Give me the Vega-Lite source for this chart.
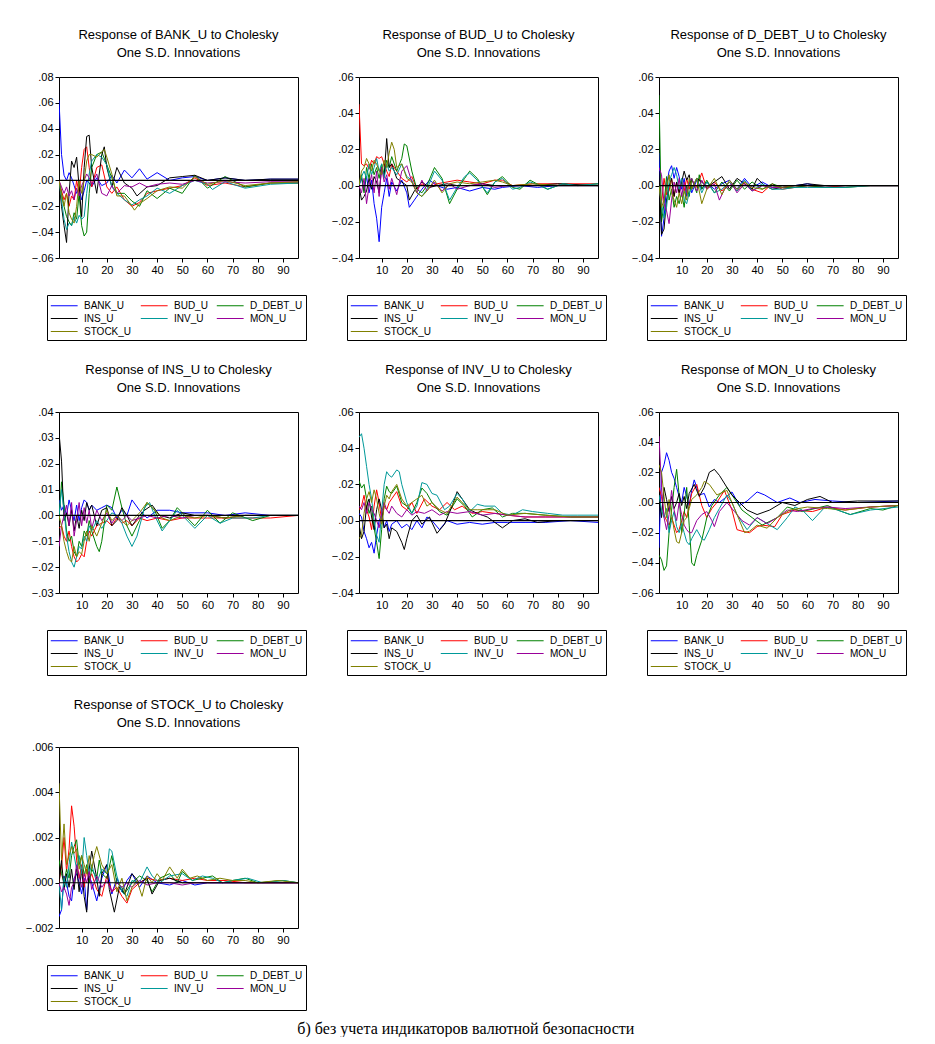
{
"$schema":"https://vega.github.io/schema/vega-lite/v6.json",
"background":"white",
"padding":{"left":24,"top":28,"right":5,"bottom":0},
"columns":3,
"spacing":{"row":154,"column":61},
"bounds":"flush",
"resolve":{"scale":{"color":"independent"},"legend":{"color":"independent"}},
"title":{"text":"б) без учета индикаторов валютной безопасности","orient":"bottom","anchor":"middle","font":"Liberation Serif","fontSize":16,"fontWeight":"normal","color":"black","offset":10},
"config":{
 "view":{"stroke":"black","strokeWidth":1},
 "title":{"font":"Liberation Sans","fontSize":13,"fontWeight":"normal","color":"black","offset":11,"lineHeight":18,"anchor":"middle"},
 "axis":{"labelFont":"Liberation Sans","labelFontSize":11,"labelColor":"black","tickColor":"black","tickSize":4,"labelPadding":2,"domain":false,"grid":false,"title":null,"labelOverlap":false},
 "line":{"strokeWidth":1}
},
"datasets":{
"p1":[
{"s":"BANK_U","x":1,"y":0.062},{"s":"BANK_U","x":2,"y":0.02},{"s":"BANK_U","x":3,"y":0.004},{"s":"BANK_U","x":4,"y":0},{"s":"BANK_U","x":5,"y":0.006},{"s":"BANK_U","x":6,"y":0.002},{"s":"BANK_U","x":7,"y":-0.004},{"s":"BANK_U","x":8,"y":-0.01},{"s":"BANK_U","x":9,"y":-0.006},{"s":"BANK_U","x":10,"y":-0.015},{"s":"BANK_U","x":11,"y":-0.008},{"s":"BANK_U","x":12,"y":0},{"s":"BANK_U","x":13,"y":-0.002},{"s":"BANK_U","x":14,"y":-0.005},{"s":"BANK_U","x":16,"y":0.002},{"s":"BANK_U","x":18,"y":-0.004},{"s":"BANK_U","x":20,"y":-0.002},{"s":"BANK_U","x":22,"y":0.004},{"s":"BANK_U","x":24,"y":-0.002},{"s":"BANK_U","x":27,"y":0.008},{"s":"BANK_U","x":30,"y":0.002},{"s":"BANK_U","x":33,"y":0.009},{"s":"BANK_U","x":36,"y":0.001},{"s":"BANK_U","x":40,"y":0.006},{"s":"BANK_U","x":45,"y":0},{"s":"BANK_U","x":50,"y":0.002},{"s":"BANK_U","x":55,"y":0.003},{"s":"BANK_U","x":60,"y":0},{"s":"BANK_U","x":67,"y":0.002},{"s":"BANK_U","x":75,"y":0},{"s":"BANK_U","x":85,"y":0.001},{"s":"BANK_U","x":96,"y":0.001},
{"s":"BUD_U","x":1,"y":0},{"s":"BUD_U","x":2,"y":-0.008},{"s":"BUD_U","x":3,"y":-0.015},{"s":"BUD_U","x":4,"y":-0.01},{"s":"BUD_U","x":5,"y":-0.02},{"s":"BUD_U","x":6,"y":-0.012},{"s":"BUD_U","x":7,"y":-0.015},{"s":"BUD_U","x":8,"y":0},{"s":"BUD_U","x":9,"y":-0.01},{"s":"BUD_U","x":10,"y":0.01},{"s":"BUD_U","x":11,"y":0.024},{"s":"BUD_U","x":12,"y":0.026},{"s":"BUD_U","x":13,"y":0.01},{"s":"BUD_U","x":14,"y":-0.005},{"s":"BUD_U","x":16,"y":0.01},{"s":"BUD_U","x":18,"y":0.012},{"s":"BUD_U","x":20,"y":-0.005},{"s":"BUD_U","x":22,"y":-0.01},{"s":"BUD_U","x":24,"y":-0.005},{"s":"BUD_U","x":27,"y":-0.015},{"s":"BUD_U","x":30,"y":-0.02},{"s":"BUD_U","x":33,"y":-0.017},{"s":"BUD_U","x":36,"y":-0.01},{"s":"BUD_U","x":40,"y":-0.008},{"s":"BUD_U","x":45,"y":-0.006},{"s":"BUD_U","x":50,"y":-0.004},{"s":"BUD_U","x":55,"y":0.002},{"s":"BUD_U","x":60,"y":-0.004},{"s":"BUD_U","x":67,"y":-0.002},{"s":"BUD_U","x":75,"y":-0.005},{"s":"BUD_U","x":85,"y":-0.002},{"s":"BUD_U","x":96,"y":-0.002},
{"s":"D_DEBT_U","x":1,"y":0},{"s":"D_DEBT_U","x":2,"y":-0.01},{"s":"D_DEBT_U","x":3,"y":-0.02},{"s":"D_DEBT_U","x":4,"y":-0.028},{"s":"D_DEBT_U","x":5,"y":-0.032},{"s":"D_DEBT_U","x":6,"y":-0.035},{"s":"D_DEBT_U","x":7,"y":-0.025},{"s":"D_DEBT_U","x":8,"y":-0.03},{"s":"D_DEBT_U","x":9,"y":-0.01},{"s":"D_DEBT_U","x":10,"y":-0.035},{"s":"D_DEBT_U","x":11,"y":-0.043},{"s":"D_DEBT_U","x":12,"y":-0.04},{"s":"D_DEBT_U","x":13,"y":-0.01},{"s":"D_DEBT_U","x":14,"y":0.01},{"s":"D_DEBT_U","x":16,"y":0.02},{"s":"D_DEBT_U","x":18,"y":0.022},{"s":"D_DEBT_U","x":20,"y":0.012},{"s":"D_DEBT_U","x":22,"y":0.002},{"s":"D_DEBT_U","x":24,"y":-0.01},{"s":"D_DEBT_U","x":27,"y":-0.01},{"s":"D_DEBT_U","x":30,"y":-0.016},{"s":"D_DEBT_U","x":33,"y":-0.02},{"s":"D_DEBT_U","x":36,"y":-0.008},{"s":"D_DEBT_U","x":40,"y":-0.014},{"s":"D_DEBT_U","x":45,"y":-0.006},{"s":"D_DEBT_U","x":50,"y":-0.01},{"s":"D_DEBT_U","x":55,"y":0.004},{"s":"D_DEBT_U","x":60,"y":-0.006},{"s":"D_DEBT_U","x":67,"y":0.003},{"s":"D_DEBT_U","x":75,"y":-0.005},{"s":"D_DEBT_U","x":85,"y":-0.002},{"s":"D_DEBT_U","x":96,"y":-0.002},
{"s":"INS_U","x":1,"y":0},{"s":"INS_U","x":2,"y":-0.02},{"s":"INS_U","x":3,"y":-0.035},{"s":"INS_U","x":4,"y":-0.048},{"s":"INS_U","x":5,"y":-0.01},{"s":"INS_U","x":6,"y":0.015},{"s":"INS_U","x":7,"y":0.01},{"s":"INS_U","x":8,"y":0.018},{"s":"INS_U","x":9,"y":-0.005},{"s":"INS_U","x":10,"y":-0.028},{"s":"INS_U","x":11,"y":0.01},{"s":"INS_U","x":12,"y":0.034},{"s":"INS_U","x":13,"y":0.035},{"s":"INS_U","x":14,"y":0.01},{"s":"INS_U","x":16,"y":-0.01},{"s":"INS_U","x":18,"y":0.02},{"s":"INS_U","x":19,"y":0.026},{"s":"INS_U","x":20,"y":0.01},{"s":"INS_U","x":22,"y":-0.005},{"s":"INS_U","x":24,"y":0.01},{"s":"INS_U","x":27,"y":-0.002},{"s":"INS_U","x":30,"y":-0.006},{"s":"INS_U","x":32,"y":-0.012},{"s":"INS_U","x":36,"y":-0.005},{"s":"INS_U","x":40,"y":-0.004},{"s":"INS_U","x":45,"y":0.002},{"s":"INS_U","x":50,"y":0.003},{"s":"INS_U","x":55,"y":0.004},{"s":"INS_U","x":60,"y":0},{"s":"INS_U","x":67,"y":0.002},{"s":"INS_U","x":75,"y":0},{"s":"INS_U","x":85,"y":0.001},{"s":"INS_U","x":96,"y":0.001},
{"s":"INV_U","x":1,"y":0},{"s":"INV_U","x":2,"y":-0.015},{"s":"INV_U","x":3,"y":-0.03},{"s":"INV_U","x":4,"y":-0.038},{"s":"INV_U","x":5,"y":-0.033},{"s":"INV_U","x":6,"y":-0.035},{"s":"INV_U","x":7,"y":-0.028},{"s":"INV_U","x":8,"y":-0.033},{"s":"INV_U","x":9,"y":-0.027},{"s":"INV_U","x":10,"y":-0.03},{"s":"INV_U","x":11,"y":-0.028},{"s":"INV_U","x":12,"y":-0.01},{"s":"INV_U","x":13,"y":0.005},{"s":"INV_U","x":14,"y":0.015},{"s":"INV_U","x":16,"y":0.02},{"s":"INV_U","x":18,"y":0.018},{"s":"INV_U","x":20,"y":0.012},{"s":"INV_U","x":22,"y":-0.005},{"s":"INV_U","x":24,"y":-0.01},{"s":"INV_U","x":27,"y":-0.015},{"s":"INV_U","x":30,"y":-0.019},{"s":"INV_U","x":33,"y":-0.015},{"s":"INV_U","x":36,"y":-0.012},{"s":"INV_U","x":40,"y":-0.006},{"s":"INV_U","x":45,"y":-0.01},{"s":"INV_U","x":50,"y":-0.004},{"s":"INV_U","x":55,"y":0},{"s":"INV_U","x":60,"y":-0.003},{"s":"INV_U","x":62,"y":-0.007},{"s":"INV_U","x":67,"y":-0.001},{"s":"INV_U","x":75,"y":-0.006},{"s":"INV_U","x":85,"y":-0.003},{"s":"INV_U","x":96,"y":-0.002},
{"s":"MON_U","x":1,"y":0},{"s":"MON_U","x":2,"y":-0.005},{"s":"MON_U","x":3,"y":-0.01},{"s":"MON_U","x":4,"y":-0.005},{"s":"MON_U","x":5,"y":-0.012},{"s":"MON_U","x":6,"y":-0.008},{"s":"MON_U","x":7,"y":-0.015},{"s":"MON_U","x":8,"y":-0.006},{"s":"MON_U","x":9,"y":-0.012},{"s":"MON_U","x":10,"y":-0.004},{"s":"MON_U","x":11,"y":0},{"s":"MON_U","x":12,"y":0.005},{"s":"MON_U","x":13,"y":0.002},{"s":"MON_U","x":14,"y":-0.003},{"s":"MON_U","x":16,"y":0.005},{"s":"MON_U","x":18,"y":-0.01},{"s":"MON_U","x":20,"y":-0.012},{"s":"MON_U","x":22,"y":-0.004},{"s":"MON_U","x":24,"y":-0.01},{"s":"MON_U","x":27,"y":-0.004},{"s":"MON_U","x":30,"y":-0.005},{"s":"MON_U","x":33,"y":-0.002},{"s":"MON_U","x":36,"y":-0.005},{"s":"MON_U","x":40,"y":-0.003},{"s":"MON_U","x":45,"y":-0.002},{"s":"MON_U","x":50,"y":-0.003},{"s":"MON_U","x":55,"y":0},{"s":"MON_U","x":60,"y":-0.002},{"s":"MON_U","x":67,"y":-0.001},{"s":"MON_U","x":75,"y":-0.002},{"s":"MON_U","x":85,"y":-0.001},{"s":"MON_U","x":96,"y":-0.001},
{"s":"STOCK_U","x":1,"y":0},{"s":"STOCK_U","x":2,"y":-0.012},{"s":"STOCK_U","x":3,"y":-0.02},{"s":"STOCK_U","x":4,"y":-0.01},{"s":"STOCK_U","x":5,"y":-0.025},{"s":"STOCK_U","x":6,"y":-0.03},{"s":"STOCK_U","x":7,"y":-0.033},{"s":"STOCK_U","x":8,"y":-0.02},{"s":"STOCK_U","x":9,"y":0},{"s":"STOCK_U","x":10,"y":-0.01},{"s":"STOCK_U","x":11,"y":0},{"s":"STOCK_U","x":12,"y":0.015},{"s":"STOCK_U","x":13,"y":0.02},{"s":"STOCK_U","x":14,"y":0.02},{"s":"STOCK_U","x":16,"y":0.018},{"s":"STOCK_U","x":18,"y":0.022},{"s":"STOCK_U","x":19,"y":0.024},{"s":"STOCK_U","x":20,"y":0.018},{"s":"STOCK_U","x":22,"y":0.005},{"s":"STOCK_U","x":24,"y":-0.012},{"s":"STOCK_U","x":27,"y":-0.012},{"s":"STOCK_U","x":30,"y":-0.02},{"s":"STOCK_U","x":31,"y":-0.023},{"s":"STOCK_U","x":33,"y":-0.018},{"s":"STOCK_U","x":36,"y":-0.014},{"s":"STOCK_U","x":40,"y":-0.008},{"s":"STOCK_U","x":45,"y":-0.005},{"s":"STOCK_U","x":50,"y":-0.006},{"s":"STOCK_U","x":55,"y":0.003},{"s":"STOCK_U","x":60,"y":-0.003},{"s":"STOCK_U","x":67,"y":0},{"s":"STOCK_U","x":75,"y":-0.004},{"s":"STOCK_U","x":85,"y":-0.002},{"s":"STOCK_U","x":96,"y":-0.001}
],
"p2":[
{"s":"BANK_U","x":1,"y":0},{"s":"BANK_U","x":2,"y":0.004},{"s":"BANK_U","x":3,"y":-0.003},{"s":"BANK_U","x":4,"y":0.005},{"s":"BANK_U","x":5,"y":-0.004},{"s":"BANK_U","x":6,"y":0.003},{"s":"BANK_U","x":7,"y":-0.01},{"s":"BANK_U","x":8,"y":-0.018},{"s":"BANK_U","x":9,"y":-0.031},{"s":"BANK_U","x":10,"y":-0.012},{"s":"BANK_U","x":11,"y":-0.004},{"s":"BANK_U","x":12,"y":0.004},{"s":"BANK_U","x":13,"y":-0.006},{"s":"BANK_U","x":14,"y":0.002},{"s":"BANK_U","x":16,"y":-0.003},{"s":"BANK_U","x":18,"y":0.003},{"s":"BANK_U","x":20,"y":-0.004},{"s":"BANK_U","x":21,"y":-0.012},{"s":"BANK_U","x":23,"y":-0.008},{"s":"BANK_U","x":26,"y":-0.002},{"s":"BANK_U","x":29,"y":0.003},{"s":"BANK_U","x":32,"y":0},{"s":"BANK_U","x":36,"y":-0.002},{"s":"BANK_U","x":40,"y":-0.001},{"s":"BANK_U","x":45,"y":-0.003},{"s":"BANK_U","x":50,"y":-0.001},{"s":"BANK_U","x":55,"y":-0.002},{"s":"BANK_U","x":58,"y":-0.001},{"s":"BANK_U","x":65,"y":0},{"s":"BANK_U","x":72,"y":-0.001},{"s":"BANK_U","x":80,"y":0},{"s":"BANK_U","x":96,"y":0},
{"s":"BUD_U","x":1,"y":0.045},{"s":"BUD_U","x":2,"y":0.012},{"s":"BUD_U","x":3,"y":0.011},{"s":"BUD_U","x":4,"y":0.012},{"s":"BUD_U","x":5,"y":0.009},{"s":"BUD_U","x":6,"y":0.014},{"s":"BUD_U","x":7,"y":0.012},{"s":"BUD_U","x":8,"y":0.016},{"s":"BUD_U","x":9,"y":0.015},{"s":"BUD_U","x":10,"y":0.016},{"s":"BUD_U","x":11,"y":0.012},{"s":"BUD_U","x":12,"y":0.008},{"s":"BUD_U","x":13,"y":0.005},{"s":"BUD_U","x":14,"y":0.012},{"s":"BUD_U","x":16,"y":0.008},{"s":"BUD_U","x":18,"y":0.004},{"s":"BUD_U","x":20,"y":0.002},{"s":"BUD_U","x":22,"y":0.005},{"s":"BUD_U","x":24,"y":-0.002},{"s":"BUD_U","x":26,"y":0.001},{"s":"BUD_U","x":29,"y":-0.001},{"s":"BUD_U","x":32,"y":0.001},{"s":"BUD_U","x":36,"y":0.002},{"s":"BUD_U","x":40,"y":0.003},{"s":"BUD_U","x":45,"y":0.002},{"s":"BUD_U","x":50,"y":0.001},{"s":"BUD_U","x":55,"y":0.003},{"s":"BUD_U","x":58,"y":0.003},{"s":"BUD_U","x":62,"y":0},{"s":"BUD_U","x":70,"y":0.001},{"s":"BUD_U","x":80,"y":0.001},{"s":"BUD_U","x":96,"y":0.001},
{"s":"D_DEBT_U","x":1,"y":0},{"s":"D_DEBT_U","x":2,"y":0.006},{"s":"D_DEBT_U","x":3,"y":-0.004},{"s":"D_DEBT_U","x":4,"y":0.01},{"s":"D_DEBT_U","x":5,"y":0.004},{"s":"D_DEBT_U","x":6,"y":0.012},{"s":"D_DEBT_U","x":7,"y":0.006},{"s":"D_DEBT_U","x":8,"y":0.01},{"s":"D_DEBT_U","x":9,"y":0.004},{"s":"D_DEBT_U","x":10,"y":0.012},{"s":"D_DEBT_U","x":11,"y":0.006},{"s":"D_DEBT_U","x":12,"y":0.014},{"s":"D_DEBT_U","x":13,"y":0.01},{"s":"D_DEBT_U","x":14,"y":0.016},{"s":"D_DEBT_U","x":16,"y":0.008},{"s":"D_DEBT_U","x":18,"y":0.015},{"s":"D_DEBT_U","x":19,"y":0.023},{"s":"D_DEBT_U","x":20,"y":0.022},{"s":"D_DEBT_U","x":22,"y":0.008},{"s":"D_DEBT_U","x":24,"y":-0.002},{"s":"D_DEBT_U","x":26,"y":-0.004},{"s":"D_DEBT_U","x":28,"y":0},{"s":"D_DEBT_U","x":31,"y":0.01},{"s":"D_DEBT_U","x":34,"y":0.004},{"s":"D_DEBT_U","x":37,"y":-0.01},{"s":"D_DEBT_U","x":40,"y":-0.002},{"s":"D_DEBT_U","x":43,"y":0.004},{"s":"D_DEBT_U","x":45,"y":0.008},{"s":"D_DEBT_U","x":48,"y":0.004},{"s":"D_DEBT_U","x":52,"y":-0.005},{"s":"D_DEBT_U","x":55,"y":0.002},{"s":"D_DEBT_U","x":58,"y":0.005},{"s":"D_DEBT_U","x":62,"y":-0.001},{"s":"D_DEBT_U","x":65,"y":-0.002},{"s":"D_DEBT_U","x":69,"y":0.003},{"s":"D_DEBT_U","x":73,"y":0},{"s":"D_DEBT_U","x":76,"y":-0.002},{"s":"D_DEBT_U","x":82,"y":0.001},{"s":"D_DEBT_U","x":88,"y":0},{"s":"D_DEBT_U","x":96,"y":0.001},
{"s":"INS_U","x":1,"y":0},{"s":"INS_U","x":2,"y":-0.008},{"s":"INS_U","x":3,"y":-0.006},{"s":"INS_U","x":4,"y":-0.003},{"s":"INS_U","x":5,"y":0.004},{"s":"INS_U","x":6,"y":-0.002},{"s":"INS_U","x":7,"y":0.005},{"s":"INS_U","x":8,"y":0.002},{"s":"INS_U","x":9,"y":-0.004},{"s":"INS_U","x":10,"y":0.01},{"s":"INS_U","x":11,"y":0.005},{"s":"INS_U","x":12,"y":0.026},{"s":"INS_U","x":13,"y":0.01},{"s":"INS_U","x":14,"y":0.012},{"s":"INS_U","x":16,"y":0.004},{"s":"INS_U","x":18,"y":0.002},{"s":"INS_U","x":20,"y":0},{"s":"INS_U","x":21,"y":-0.008},{"s":"INS_U","x":23,"y":-0.003},{"s":"INS_U","x":26,"y":0.002},{"s":"INS_U","x":29,"y":-0.001},{"s":"INS_U","x":32,"y":0},{"s":"INS_U","x":36,"y":0.001},{"s":"INS_U","x":40,"y":0},{"s":"INS_U","x":45,"y":0},{"s":"INS_U","x":50,"y":0.001},{"s":"INS_U","x":55,"y":0},{"s":"INS_U","x":60,"y":0},{"s":"INS_U","x":70,"y":0},{"s":"INS_U","x":80,"y":0.001},{"s":"INS_U","x":96,"y":0},
{"s":"INV_U","x":1,"y":0},{"s":"INV_U","x":2,"y":0.005},{"s":"INV_U","x":3,"y":0.008},{"s":"INV_U","x":4,"y":0.004},{"s":"INV_U","x":5,"y":0.012},{"s":"INV_U","x":6,"y":0.006},{"s":"INV_U","x":7,"y":0.01},{"s":"INV_U","x":8,"y":0.015},{"s":"INV_U","x":9,"y":0.008},{"s":"INV_U","x":10,"y":0.012},{"s":"INV_U","x":11,"y":0.004},{"s":"INV_U","x":12,"y":0.012},{"s":"INV_U","x":13,"y":0.008},{"s":"INV_U","x":14,"y":0.01},{"s":"INV_U","x":16,"y":0.006},{"s":"INV_U","x":18,"y":0.012},{"s":"INV_U","x":20,"y":0.005},{"s":"INV_U","x":22,"y":0.003},{"s":"INV_U","x":24,"y":-0.004},{"s":"INV_U","x":26,"y":-0.006},{"s":"INV_U","x":28,"y":-0.002},{"s":"INV_U","x":31,"y":0.008},{"s":"INV_U","x":34,"y":0.003},{"s":"INV_U","x":37,"y":-0.008},{"s":"INV_U","x":40,"y":-0.001},{"s":"INV_U","x":43,"y":0.005},{"s":"INV_U","x":45,"y":0.007},{"s":"INV_U","x":48,"y":0.003},{"s":"INV_U","x":52,"y":-0.004},{"s":"INV_U","x":55,"y":0.002},{"s":"INV_U","x":58,"y":0.004},{"s":"INV_U","x":62,"y":-0.002},{"s":"INV_U","x":65,"y":-0.001},{"s":"INV_U","x":69,"y":0.002},{"s":"INV_U","x":73,"y":0},{"s":"INV_U","x":76,"y":-0.002},{"s":"INV_U","x":82,"y":0.001},{"s":"INV_U","x":88,"y":0},{"s":"INV_U","x":96,"y":0.001},
{"s":"MON_U","x":1,"y":0},{"s":"MON_U","x":2,"y":-0.004},{"s":"MON_U","x":3,"y":0.004},{"s":"MON_U","x":4,"y":-0.01},{"s":"MON_U","x":5,"y":0},{"s":"MON_U","x":6,"y":0.006},{"s":"MON_U","x":7,"y":-0.004},{"s":"MON_U","x":8,"y":0.008},{"s":"MON_U","x":9,"y":-0.006},{"s":"MON_U","x":10,"y":0.01},{"s":"MON_U","x":11,"y":0.002},{"s":"MON_U","x":12,"y":0.006},{"s":"MON_U","x":13,"y":-0.002},{"s":"MON_U","x":14,"y":0.004},{"s":"MON_U","x":16,"y":-0.005},{"s":"MON_U","x":18,"y":0.008},{"s":"MON_U","x":20,"y":0.011},{"s":"MON_U","x":22,"y":0.002},{"s":"MON_U","x":24,"y":-0.004},{"s":"MON_U","x":26,"y":0.003},{"s":"MON_U","x":28,"y":-0.003},{"s":"MON_U","x":31,"y":0.002},{"s":"MON_U","x":34,"y":-0.003},{"s":"MON_U","x":37,"y":0.001},{"s":"MON_U","x":40,"y":-0.002},{"s":"MON_U","x":45,"y":0},{"s":"MON_U","x":50,"y":0.001},{"s":"MON_U","x":55,"y":-0.001},{"s":"MON_U","x":60,"y":0},{"s":"MON_U","x":70,"y":0},{"s":"MON_U","x":80,"y":0},{"s":"MON_U","x":96,"y":0},
{"s":"STOCK_U","x":1,"y":0},{"s":"STOCK_U","x":2,"y":0.008},{"s":"STOCK_U","x":3,"y":0.01},{"s":"STOCK_U","x":4,"y":0.015},{"s":"STOCK_U","x":5,"y":0.012},{"s":"STOCK_U","x":6,"y":0.008},{"s":"STOCK_U","x":7,"y":0.014},{"s":"STOCK_U","x":8,"y":0.012},{"s":"STOCK_U","x":9,"y":0.008},{"s":"STOCK_U","x":10,"y":0.006},{"s":"STOCK_U","x":11,"y":0.014},{"s":"STOCK_U","x":12,"y":0.01},{"s":"STOCK_U","x":13,"y":0.018},{"s":"STOCK_U","x":14,"y":0.024},{"s":"STOCK_U","x":15,"y":0.02},{"s":"STOCK_U","x":16,"y":0.01},{"s":"STOCK_U","x":18,"y":0.012},{"s":"STOCK_U","x":20,"y":0.004},{"s":"STOCK_U","x":22,"y":0.002},{"s":"STOCK_U","x":24,"y":-0.004},{"s":"STOCK_U","x":26,"y":-0.006},{"s":"STOCK_U","x":28,"y":-0.003},{"s":"STOCK_U","x":31,"y":0.003},{"s":"STOCK_U","x":34,"y":-0.004},{"s":"STOCK_U","x":37,"y":0.001},{"s":"STOCK_U","x":40,"y":0.002},{"s":"STOCK_U","x":45,"y":0.001},{"s":"STOCK_U","x":50,"y":0.002},{"s":"STOCK_U","x":55,"y":0.003},{"s":"STOCK_U","x":58,"y":0.002},{"s":"STOCK_U","x":62,"y":0},{"s":"STOCK_U","x":70,"y":0.001},{"s":"STOCK_U","x":80,"y":0},{"s":"STOCK_U","x":96,"y":0}
],
"p3":[
{"s":"BANK_U","x":1,"y":0.018},{"s":"BANK_U","x":2,"y":-0.028},{"s":"BANK_U","x":3,"y":-0.018},{"s":"BANK_U","x":4,"y":0},{"s":"BANK_U","x":5,"y":0.008},{"s":"BANK_U","x":6,"y":0.011},{"s":"BANK_U","x":7,"y":0.004},{"s":"BANK_U","x":8,"y":0.01},{"s":"BANK_U","x":9,"y":0.005},{"s":"BANK_U","x":10,"y":-0.002},{"s":"BANK_U","x":11,"y":0.004},{"s":"BANK_U","x":12,"y":-0.006},{"s":"BANK_U","x":13,"y":0.002},{"s":"BANK_U","x":14,"y":-0.004},{"s":"BANK_U","x":16,"y":0.003},{"s":"BANK_U","x":18,"y":-0.002},{"s":"BANK_U","x":20,"y":0.002},{"s":"BANK_U","x":23,"y":-0.002},{"s":"BANK_U","x":26,"y":0.001},{"s":"BANK_U","x":29,"y":0.003},{"s":"BANK_U","x":32,"y":-0.002},{"s":"BANK_U","x":35,"y":0.004},{"s":"BANK_U","x":38,"y":-0.001},{"s":"BANK_U","x":42,"y":0.002},{"s":"BANK_U","x":46,"y":-0.001},{"s":"BANK_U","x":50,"y":0},{"s":"BANK_U","x":55,"y":0},{"s":"BANK_U","x":60,"y":0.001},{"s":"BANK_U","x":67,"y":-0.001},{"s":"BANK_U","x":75,"y":0},{"s":"BANK_U","x":85,"y":0},{"s":"BANK_U","x":96,"y":0},
{"s":"BUD_U","x":1,"y":0.002},{"s":"BUD_U","x":2,"y":-0.01},{"s":"BUD_U","x":3,"y":0.004},{"s":"BUD_U","x":4,"y":-0.005},{"s":"BUD_U","x":5,"y":-0.003},{"s":"BUD_U","x":6,"y":0.004},{"s":"BUD_U","x":7,"y":-0.006},{"s":"BUD_U","x":8,"y":0.002},{"s":"BUD_U","x":9,"y":-0.004},{"s":"BUD_U","x":10,"y":0.003},{"s":"BUD_U","x":11,"y":-0.003},{"s":"BUD_U","x":12,"y":0.004},{"s":"BUD_U","x":13,"y":-0.002},{"s":"BUD_U","x":14,"y":0.003},{"s":"BUD_U","x":16,"y":-0.001},{"s":"BUD_U","x":18,"y":0.007},{"s":"BUD_U","x":20,"y":-0.002},{"s":"BUD_U","x":23,"y":0.002},{"s":"BUD_U","x":26,"y":-0.003},{"s":"BUD_U","x":29,"y":0.002},{"s":"BUD_U","x":32,"y":-0.003},{"s":"BUD_U","x":35,"y":0.002},{"s":"BUD_U","x":38,"y":-0.002},{"s":"BUD_U","x":42,"y":-0.004},{"s":"BUD_U","x":46,"y":0.001},{"s":"BUD_U","x":50,"y":-0.002},{"s":"BUD_U","x":55,"y":-0.001},{"s":"BUD_U","x":60,"y":0},{"s":"BUD_U","x":67,"y":-0.001},{"s":"BUD_U","x":75,"y":0},{"s":"BUD_U","x":85,"y":0},{"s":"BUD_U","x":96,"y":0},
{"s":"D_DEBT_U","x":1,"y":0.05},{"s":"D_DEBT_U","x":2,"y":-0.02},{"s":"D_DEBT_U","x":3,"y":-0.01},{"s":"D_DEBT_U","x":4,"y":0.005},{"s":"D_DEBT_U","x":5,"y":-0.008},{"s":"D_DEBT_U","x":6,"y":-0.002},{"s":"D_DEBT_U","x":7,"y":-0.012},{"s":"D_DEBT_U","x":8,"y":-0.006},{"s":"D_DEBT_U","x":9,"y":-0.01},{"s":"D_DEBT_U","x":10,"y":-0.004},{"s":"D_DEBT_U","x":11,"y":-0.012},{"s":"D_DEBT_U","x":12,"y":0},{"s":"D_DEBT_U","x":13,"y":-0.006},{"s":"D_DEBT_U","x":14,"y":0.004},{"s":"D_DEBT_U","x":16,"y":-0.004},{"s":"D_DEBT_U","x":17,"y":0.006},{"s":"D_DEBT_U","x":18,"y":-0.002},{"s":"D_DEBT_U","x":20,"y":0.003},{"s":"D_DEBT_U","x":23,"y":-0.004},{"s":"D_DEBT_U","x":26,"y":0.002},{"s":"D_DEBT_U","x":29,"y":-0.003},{"s":"D_DEBT_U","x":32,"y":0.003},{"s":"D_DEBT_U","x":35,"y":-0.002},{"s":"D_DEBT_U","x":38,"y":0.002},{"s":"D_DEBT_U","x":42,"y":-0.002},{"s":"D_DEBT_U","x":46,"y":0.001},{"s":"D_DEBT_U","x":50,"y":-0.001},{"s":"D_DEBT_U","x":55,"y":-0.001},{"s":"D_DEBT_U","x":60,"y":0},{"s":"D_DEBT_U","x":67,"y":-0.001},{"s":"D_DEBT_U","x":75,"y":-0.001},{"s":"D_DEBT_U","x":85,"y":0},{"s":"D_DEBT_U","x":96,"y":0},
{"s":"INS_U","x":1,"y":0.008},{"s":"INS_U","x":2,"y":-0.027},{"s":"INS_U","x":3,"y":-0.024},{"s":"INS_U","x":4,"y":-0.008},{"s":"INS_U","x":5,"y":0},{"s":"INS_U","x":6,"y":0.004},{"s":"INS_U","x":7,"y":-0.006},{"s":"INS_U","x":8,"y":0.002},{"s":"INS_U","x":9,"y":-0.004},{"s":"INS_U","x":10,"y":0.002},{"s":"INS_U","x":11,"y":0.008},{"s":"INS_U","x":12,"y":0.003},{"s":"INS_U","x":13,"y":0.006},{"s":"INS_U","x":14,"y":-0.002},{"s":"INS_U","x":16,"y":0.004},{"s":"INS_U","x":18,"y":0.002},{"s":"INS_U","x":20,"y":-0.001},{"s":"INS_U","x":23,"y":0.002},{"s":"INS_U","x":26,"y":0.005},{"s":"INS_U","x":29,"y":-0.002},{"s":"INS_U","x":32,"y":0.004},{"s":"INS_U","x":35,"y":0.001},{"s":"INS_U","x":38,"y":-0.002},{"s":"INS_U","x":40,"y":0.004},{"s":"INS_U","x":43,"y":0},{"s":"INS_U","x":46,"y":-0.002},{"s":"INS_U","x":50,"y":-0.001},{"s":"INS_U","x":55,"y":0},{"s":"INS_U","x":60,"y":0.001},{"s":"INS_U","x":67,"y":0},{"s":"INS_U","x":75,"y":0},{"s":"INS_U","x":85,"y":0},{"s":"INS_U","x":96,"y":0},
{"s":"INV_U","x":1,"y":0},{"s":"INV_U","x":2,"y":-0.01},{"s":"INV_U","x":3,"y":-0.018},{"s":"INV_U","x":4,"y":-0.012},{"s":"INV_U","x":5,"y":0.002},{"s":"INV_U","x":6,"y":0.006},{"s":"INV_U","x":7,"y":0.01},{"s":"INV_U","x":8,"y":0.006},{"s":"INV_U","x":9,"y":-0.002},{"s":"INV_U","x":10,"y":0.004},{"s":"INV_U","x":11,"y":-0.008},{"s":"INV_U","x":12,"y":-0.01},{"s":"INV_U","x":13,"y":-0.004},{"s":"INV_U","x":14,"y":-0.002},{"s":"INV_U","x":16,"y":0.004},{"s":"INV_U","x":18,"y":-0.004},{"s":"INV_U","x":20,"y":0.002},{"s":"INV_U","x":23,"y":-0.004},{"s":"INV_U","x":26,"y":-0.002},{"s":"INV_U","x":29,"y":0.002},{"s":"INV_U","x":32,"y":-0.003},{"s":"INV_U","x":35,"y":0.003},{"s":"INV_U","x":38,"y":-0.003},{"s":"INV_U","x":42,"y":0.001},{"s":"INV_U","x":46,"y":-0.002},{"s":"INV_U","x":50,"y":-0.002},{"s":"INV_U","x":55,"y":-0.001},{"s":"INV_U","x":60,"y":-0.001},{"s":"INV_U","x":67,"y":-0.001},{"s":"INV_U","x":75,"y":-0.001},{"s":"INV_U","x":85,"y":0},{"s":"INV_U","x":96,"y":0},
{"s":"MON_U","x":1,"y":0.01},{"s":"MON_U","x":2,"y":0.006},{"s":"MON_U","x":3,"y":-0.01},{"s":"MON_U","x":4,"y":-0.014},{"s":"MON_U","x":5,"y":-0.021},{"s":"MON_U","x":6,"y":-0.008},{"s":"MON_U","x":7,"y":0.002},{"s":"MON_U","x":8,"y":-0.004},{"s":"MON_U","x":9,"y":0.004},{"s":"MON_U","x":10,"y":-0.006},{"s":"MON_U","x":11,"y":0.002},{"s":"MON_U","x":12,"y":-0.004},{"s":"MON_U","x":13,"y":0.002},{"s":"MON_U","x":14,"y":0.004},{"s":"MON_U","x":16,"y":-0.003},{"s":"MON_U","x":18,"y":0.003},{"s":"MON_U","x":20,"y":-0.002},{"s":"MON_U","x":23,"y":0.001},{"s":"MON_U","x":25,"y":-0.008},{"s":"MON_U","x":27,"y":-0.002},{"s":"MON_U","x":30,"y":0.001},{"s":"MON_U","x":32,"y":-0.004},{"s":"MON_U","x":35,"y":0.001},{"s":"MON_U","x":38,"y":-0.003},{"s":"MON_U","x":42,"y":0},{"s":"MON_U","x":46,"y":-0.001},{"s":"MON_U","x":50,"y":-0.001},{"s":"MON_U","x":55,"y":0},{"s":"MON_U","x":60,"y":0},{"s":"MON_U","x":67,"y":0},{"s":"MON_U","x":75,"y":0},{"s":"MON_U","x":85,"y":0},{"s":"MON_U","x":96,"y":0},
{"s":"STOCK_U","x":1,"y":0},{"s":"STOCK_U","x":2,"y":-0.012},{"s":"STOCK_U","x":3,"y":-0.008},{"s":"STOCK_U","x":4,"y":-0.002},{"s":"STOCK_U","x":5,"y":0.006},{"s":"STOCK_U","x":6,"y":-0.004},{"s":"STOCK_U","x":7,"y":-0.008},{"s":"STOCK_U","x":8,"y":-0.012},{"s":"STOCK_U","x":9,"y":-0.004},{"s":"STOCK_U","x":10,"y":-0.01},{"s":"STOCK_U","x":11,"y":-0.003},{"s":"STOCK_U","x":12,"y":-0.008},{"s":"STOCK_U","x":13,"y":0.004},{"s":"STOCK_U","x":14,"y":-0.002},{"s":"STOCK_U","x":16,"y":0.004},{"s":"STOCK_U","x":18,"y":-0.01},{"s":"STOCK_U","x":20,"y":-0.002},{"s":"STOCK_U","x":23,"y":0.004},{"s":"STOCK_U","x":26,"y":-0.005},{"s":"STOCK_U","x":29,"y":0.003},{"s":"STOCK_U","x":32,"y":-0.002},{"s":"STOCK_U","x":35,"y":0.002},{"s":"STOCK_U","x":38,"y":-0.001},{"s":"STOCK_U","x":42,"y":-0.002},{"s":"STOCK_U","x":46,"y":0},{"s":"STOCK_U","x":50,"y":-0.001},{"s":"STOCK_U","x":55,"y":0},{"s":"STOCK_U","x":60,"y":0},{"s":"STOCK_U","x":67,"y":0},{"s":"STOCK_U","x":75,"y":0},{"s":"STOCK_U","x":85,"y":0},{"s":"STOCK_U","x":96,"y":0}
],
"p4":[
{"s":"BANK_U","x":1,"y":0.006},{"s":"BANK_U","x":2,"y":0.002},{"s":"BANK_U","x":3,"y":0.004},{"s":"BANK_U","x":4,"y":0},{"s":"BANK_U","x":5,"y":0.006},{"s":"BANK_U","x":6,"y":0.002},{"s":"BANK_U","x":7,"y":-0.002},{"s":"BANK_U","x":8,"y":0.004},{"s":"BANK_U","x":9,"y":-0.002},{"s":"BANK_U","x":10,"y":0.003},{"s":"BANK_U","x":11,"y":0.006},{"s":"BANK_U","x":12,"y":0.005},{"s":"BANK_U","x":13,"y":0.002},{"s":"BANK_U","x":14,"y":0.004},{"s":"BANK_U","x":16,"y":0.002},{"s":"BANK_U","x":18,"y":0.003},{"s":"BANK_U","x":20,"y":0.004},{"s":"BANK_U","x":22,"y":0.003},{"s":"BANK_U","x":24,"y":-0.001},{"s":"BANK_U","x":26,"y":0.002},{"s":"BANK_U","x":28,"y":0},{"s":"BANK_U","x":30,"y":0.006},{"s":"BANK_U","x":33,"y":0.002},{"s":"BANK_U","x":36,"y":-0.001},{"s":"BANK_U","x":40,"y":0.002},{"s":"BANK_U","x":45,"y":0.002},{"s":"BANK_U","x":50,"y":0.001},{"s":"BANK_U","x":55,"y":0.001},{"s":"BANK_U","x":60,"y":0.001},{"s":"BANK_U","x":67,"y":0},{"s":"BANK_U","x":75,"y":0.001},{"s":"BANK_U","x":85,"y":0},{"s":"BANK_U","x":96,"y":0},
{"s":"BUD_U","x":1,"y":-0.005},{"s":"BUD_U","x":2,"y":-0.004},{"s":"BUD_U","x":3,"y":-0.008},{"s":"BUD_U","x":4,"y":-0.01},{"s":"BUD_U","x":5,"y":-0.006},{"s":"BUD_U","x":6,"y":-0.012},{"s":"BUD_U","x":7,"y":-0.016},{"s":"BUD_U","x":8,"y":-0.018},{"s":"BUD_U","x":9,"y":-0.017},{"s":"BUD_U","x":10,"y":-0.015},{"s":"BUD_U","x":11,"y":-0.016},{"s":"BUD_U","x":12,"y":-0.01},{"s":"BUD_U","x":13,"y":-0.006},{"s":"BUD_U","x":14,"y":-0.008},{"s":"BUD_U","x":16,"y":-0.004},{"s":"BUD_U","x":18,"y":-0.003},{"s":"BUD_U","x":20,"y":-0.002},{"s":"BUD_U","x":22,"y":-0.004},{"s":"BUD_U","x":24,"y":-0.001},{"s":"BUD_U","x":26,"y":-0.003},{"s":"BUD_U","x":28,"y":-0.002},{"s":"BUD_U","x":30,"y":-0.004},{"s":"BUD_U","x":33,"y":-0.001},{"s":"BUD_U","x":36,"y":-0.002},{"s":"BUD_U","x":40,"y":-0.001},{"s":"BUD_U","x":45,"y":-0.002},{"s":"BUD_U","x":50,"y":-0.001},{"s":"BUD_U","x":55,"y":-0.001},{"s":"BUD_U","x":60,"y":-0.001},{"s":"BUD_U","x":67,"y":-0.001},{"s":"BUD_U","x":75,"y":-0.001},{"s":"BUD_U","x":85,"y":-0.001},{"s":"BUD_U","x":96,"y":0},
{"s":"D_DEBT_U","x":1,"y":-0.002},{"s":"D_DEBT_U","x":2,"y":0.013},{"s":"D_DEBT_U","x":3,"y":0.004},{"s":"D_DEBT_U","x":4,"y":-0.006},{"s":"D_DEBT_U","x":5,"y":-0.01},{"s":"D_DEBT_U","x":6,"y":-0.008},{"s":"D_DEBT_U","x":7,"y":-0.014},{"s":"D_DEBT_U","x":8,"y":-0.016},{"s":"D_DEBT_U","x":9,"y":-0.01},{"s":"D_DEBT_U","x":10,"y":-0.012},{"s":"D_DEBT_U","x":11,"y":-0.006},{"s":"D_DEBT_U","x":12,"y":-0.008},{"s":"D_DEBT_U","x":13,"y":-0.002},{"s":"D_DEBT_U","x":14,"y":-0.006},{"s":"D_DEBT_U","x":16,"y":-0.012},{"s":"D_DEBT_U","x":17,"y":-0.014},{"s":"D_DEBT_U","x":18,"y":-0.01},{"s":"D_DEBT_U","x":20,"y":0.004},{"s":"D_DEBT_U","x":22,"y":0.002},{"s":"D_DEBT_U","x":24,"y":0.011},{"s":"D_DEBT_U","x":26,"y":0.003},{"s":"D_DEBT_U","x":28,"y":-0.004},{"s":"D_DEBT_U","x":30,"y":-0.008},{"s":"D_DEBT_U","x":33,"y":-0.002},{"s":"D_DEBT_U","x":36,"y":0.005},{"s":"D_DEBT_U","x":39,"y":0.002},{"s":"D_DEBT_U","x":42,"y":-0.005},{"s":"D_DEBT_U","x":45,"y":-0.002},{"s":"D_DEBT_U","x":48,"y":0.003},{"s":"D_DEBT_U","x":51,"y":0},{"s":"D_DEBT_U","x":55,"y":-0.004},{"s":"D_DEBT_U","x":60,"y":0.002},{"s":"D_DEBT_U","x":65,"y":-0.003},{"s":"D_DEBT_U","x":70,"y":0.001},{"s":"D_DEBT_U","x":78,"y":-0.002},{"s":"D_DEBT_U","x":85,"y":0},{"s":"D_DEBT_U","x":96,"y":0},
{"s":"INS_U","x":1,"y":0.032},{"s":"INS_U","x":2,"y":0.021},{"s":"INS_U","x":3,"y":-0.002},{"s":"INS_U","x":4,"y":0.001},{"s":"INS_U","x":5,"y":-0.004},{"s":"INS_U","x":6,"y":0.002},{"s":"INS_U","x":7,"y":-0.006},{"s":"INS_U","x":8,"y":0},{"s":"INS_U","x":9,"y":-0.005},{"s":"INS_U","x":10,"y":0.002},{"s":"INS_U","x":11,"y":-0.002},{"s":"INS_U","x":12,"y":0.005},{"s":"INS_U","x":13,"y":0.002},{"s":"INS_U","x":14,"y":0.004},{"s":"INS_U","x":16,"y":-0.004},{"s":"INS_U","x":18,"y":0.002},{"s":"INS_U","x":20,"y":0.003},{"s":"INS_U","x":22,"y":-0.004},{"s":"INS_U","x":24,"y":-0.002},{"s":"INS_U","x":26,"y":0.003},{"s":"INS_U","x":28,"y":0},{"s":"INS_U","x":30,"y":-0.004},{"s":"INS_U","x":33,"y":0},{"s":"INS_U","x":35,"y":0.002},{"s":"INS_U","x":38,"y":0.004},{"s":"INS_U","x":41,"y":0},{"s":"INS_U","x":45,"y":-0.001},{"s":"INS_U","x":50,"y":0.001},{"s":"INS_U","x":55,"y":0},{"s":"INS_U","x":60,"y":0},{"s":"INS_U","x":67,"y":-0.001},{"s":"INS_U","x":75,"y":0},{"s":"INS_U","x":85,"y":0},{"s":"INS_U","x":96,"y":0},
{"s":"INV_U","x":1,"y":0},{"s":"INV_U","x":2,"y":0.01},{"s":"INV_U","x":3,"y":0.002},{"s":"INV_U","x":4,"y":-0.008},{"s":"INV_U","x":5,"y":-0.014},{"s":"INV_U","x":6,"y":-0.018},{"s":"INV_U","x":7,"y":-0.02},{"s":"INV_U","x":8,"y":-0.016},{"s":"INV_U","x":9,"y":-0.012},{"s":"INV_U","x":10,"y":-0.013},{"s":"INV_U","x":11,"y":-0.008},{"s":"INV_U","x":12,"y":-0.01},{"s":"INV_U","x":13,"y":-0.004},{"s":"INV_U","x":14,"y":-0.006},{"s":"INV_U","x":16,"y":-0.002},{"s":"INV_U","x":18,"y":-0.005},{"s":"INV_U","x":20,"y":-0.002},{"s":"INV_U","x":22,"y":0.001},{"s":"INV_U","x":24,"y":0},{"s":"INV_U","x":26,"y":-0.003},{"s":"INV_U","x":28,"y":-0.008},{"s":"INV_U","x":30,"y":-0.012},{"s":"INV_U","x":32,"y":-0.008},{"s":"INV_U","x":35,"y":0.003},{"s":"INV_U","x":37,"y":0.005},{"s":"INV_U","x":39,"y":0},{"s":"INV_U","x":42,"y":-0.006},{"s":"INV_U","x":45,"y":-0.002},{"s":"INV_U","x":48,"y":0.002},{"s":"INV_U","x":51,"y":-0.001},{"s":"INV_U","x":55,"y":-0.005},{"s":"INV_U","x":60,"y":0},{"s":"INV_U","x":65,"y":-0.003},{"s":"INV_U","x":70,"y":-0.001},{"s":"INV_U","x":78,"y":-0.001},{"s":"INV_U","x":85,"y":0},{"s":"INV_U","x":96,"y":0},
{"s":"MON_U","x":1,"y":-0.012},{"s":"MON_U","x":2,"y":-0.004},{"s":"MON_U","x":3,"y":0},{"s":"MON_U","x":4,"y":0.004},{"s":"MON_U","x":5,"y":-0.004},{"s":"MON_U","x":6,"y":0.005},{"s":"MON_U","x":7,"y":-0.008},{"s":"MON_U","x":8,"y":-0.002},{"s":"MON_U","x":9,"y":0.005},{"s":"MON_U","x":10,"y":-0.004},{"s":"MON_U","x":11,"y":0.003},{"s":"MON_U","x":12,"y":-0.003},{"s":"MON_U","x":13,"y":0.002},{"s":"MON_U","x":14,"y":-0.005},{"s":"MON_U","x":16,"y":0.002},{"s":"MON_U","x":18,"y":-0.002},{"s":"MON_U","x":20,"y":0.001},{"s":"MON_U","x":22,"y":-0.003},{"s":"MON_U","x":24,"y":0},{"s":"MON_U","x":26,"y":-0.002},{"s":"MON_U","x":28,"y":0},{"s":"MON_U","x":30,"y":-0.002},{"s":"MON_U","x":33,"y":-0.001},{"s":"MON_U","x":36,"y":0},{"s":"MON_U","x":40,"y":-0.001},{"s":"MON_U","x":45,"y":0},{"s":"MON_U","x":50,"y":-0.001},{"s":"MON_U","x":55,"y":0},{"s":"MON_U","x":60,"y":0},{"s":"MON_U","x":67,"y":0},{"s":"MON_U","x":75,"y":0},{"s":"MON_U","x":85,"y":0},{"s":"MON_U","x":96,"y":0},
{"s":"STOCK_U","x":1,"y":0},{"s":"STOCK_U","x":2,"y":-0.004},{"s":"STOCK_U","x":3,"y":-0.01},{"s":"STOCK_U","x":4,"y":-0.014},{"s":"STOCK_U","x":5,"y":-0.017},{"s":"STOCK_U","x":6,"y":-0.018},{"s":"STOCK_U","x":7,"y":-0.012},{"s":"STOCK_U","x":8,"y":-0.016},{"s":"STOCK_U","x":9,"y":-0.014},{"s":"STOCK_U","x":10,"y":-0.015},{"s":"STOCK_U","x":11,"y":-0.01},{"s":"STOCK_U","x":12,"y":-0.006},{"s":"STOCK_U","x":13,"y":-0.01},{"s":"STOCK_U","x":14,"y":-0.004},{"s":"STOCK_U","x":16,"y":-0.008},{"s":"STOCK_U","x":18,"y":-0.003},{"s":"STOCK_U","x":20,"y":0.002},{"s":"STOCK_U","x":22,"y":-0.002},{"s":"STOCK_U","x":24,"y":0},{"s":"STOCK_U","x":26,"y":-0.002},{"s":"STOCK_U","x":28,"y":-0.004},{"s":"STOCK_U","x":30,"y":-0.002},{"s":"STOCK_U","x":33,"y":0.001},{"s":"STOCK_U","x":36,"y":0.005},{"s":"STOCK_U","x":39,"y":0.002},{"s":"STOCK_U","x":42,"y":-0.001},{"s":"STOCK_U","x":45,"y":-0.002},{"s":"STOCK_U","x":50,"y":0},{"s":"STOCK_U","x":55,"y":-0.001},{"s":"STOCK_U","x":60,"y":0},{"s":"STOCK_U","x":67,"y":-0.001},{"s":"STOCK_U","x":75,"y":0},{"s":"STOCK_U","x":85,"y":0},{"s":"STOCK_U","x":96,"y":0}
],
"p5":[
{"s":"BANK_U","x":1,"y":0.004},{"s":"BANK_U","x":2,"y":0.002},{"s":"BANK_U","x":3,"y":-0.006},{"s":"BANK_U","x":4,"y":-0.01},{"s":"BANK_U","x":5,"y":-0.015},{"s":"BANK_U","x":6,"y":-0.012},{"s":"BANK_U","x":7,"y":-0.018},{"s":"BANK_U","x":8,"y":-0.008},{"s":"BANK_U","x":9,"y":0},{"s":"BANK_U","x":10,"y":0.003},{"s":"BANK_U","x":11,"y":-0.004},{"s":"BANK_U","x":12,"y":0},{"s":"BANK_U","x":13,"y":-0.006},{"s":"BANK_U","x":14,"y":-0.002},{"s":"BANK_U","x":16,"y":0},{"s":"BANK_U","x":18,"y":-0.004},{"s":"BANK_U","x":20,"y":-0.002},{"s":"BANK_U","x":22,"y":-0.005},{"s":"BANK_U","x":24,"y":0},{"s":"BANK_U","x":26,"y":-0.004},{"s":"BANK_U","x":28,"y":0.002},{"s":"BANK_U","x":30,"y":0},{"s":"BANK_U","x":33,"y":-0.005},{"s":"BANK_U","x":36,"y":0},{"s":"BANK_U","x":40,"y":-0.002},{"s":"BANK_U","x":45,"y":-0.001},{"s":"BANK_U","x":50,"y":-0.002},{"s":"BANK_U","x":55,"y":-0.001},{"s":"BANK_U","x":60,"y":-0.001},{"s":"BANK_U","x":67,"y":-0.001},{"s":"BANK_U","x":75,"y":-0.001},{"s":"BANK_U","x":85,"y":0},{"s":"BANK_U","x":96,"y":-0.001},
{"s":"BUD_U","x":1,"y":0.006},{"s":"BUD_U","x":2,"y":0.008},{"s":"BUD_U","x":3,"y":0.014},{"s":"BUD_U","x":4,"y":0.006},{"s":"BUD_U","x":5,"y":0.002},{"s":"BUD_U","x":6,"y":-0.005},{"s":"BUD_U","x":7,"y":0.008},{"s":"BUD_U","x":8,"y":0.017},{"s":"BUD_U","x":9,"y":0.01},{"s":"BUD_U","x":10,"y":0},{"s":"BUD_U","x":11,"y":0.008},{"s":"BUD_U","x":12,"y":0.006},{"s":"BUD_U","x":13,"y":0.01},{"s":"BUD_U","x":14,"y":0.012},{"s":"BUD_U","x":16,"y":0.016},{"s":"BUD_U","x":18,"y":0.008},{"s":"BUD_U","x":20,"y":0.006},{"s":"BUD_U","x":22,"y":0.01},{"s":"BUD_U","x":24,"y":0.004},{"s":"BUD_U","x":27,"y":0.012},{"s":"BUD_U","x":30,"y":0.008},{"s":"BUD_U","x":33,"y":0.006},{"s":"BUD_U","x":36,"y":0.01},{"s":"BUD_U","x":39,"y":0.006},{"s":"BUD_U","x":42,"y":0.008},{"s":"BUD_U","x":46,"y":0.004},{"s":"BUD_U","x":50,"y":0.005},{"s":"BUD_U","x":55,"y":0.004},{"s":"BUD_U","x":60,"y":0.003},{"s":"BUD_U","x":67,"y":0.002},{"s":"BUD_U","x":75,"y":0.002},{"s":"BUD_U","x":85,"y":0.002},{"s":"BUD_U","x":96,"y":0.002},
{"s":"D_DEBT_U","x":1,"y":0.022},{"s":"D_DEBT_U","x":2,"y":0.018},{"s":"D_DEBT_U","x":3,"y":0.02},{"s":"D_DEBT_U","x":4,"y":0.012},{"s":"D_DEBT_U","x":5,"y":0.004},{"s":"D_DEBT_U","x":6,"y":0.008},{"s":"D_DEBT_U","x":7,"y":-0.004},{"s":"D_DEBT_U","x":8,"y":-0.012},{"s":"D_DEBT_U","x":9,"y":-0.021},{"s":"D_DEBT_U","x":10,"y":-0.005},{"s":"D_DEBT_U","x":11,"y":0.012},{"s":"D_DEBT_U","x":12,"y":0.019},{"s":"D_DEBT_U","x":13,"y":0.016},{"s":"D_DEBT_U","x":14,"y":0.015},{"s":"D_DEBT_U","x":16,"y":0.019},{"s":"D_DEBT_U","x":18,"y":0.01},{"s":"D_DEBT_U","x":20,"y":0.008},{"s":"D_DEBT_U","x":22,"y":0.004},{"s":"D_DEBT_U","x":24,"y":0.01},{"s":"D_DEBT_U","x":26,"y":0.018},{"s":"D_DEBT_U","x":28,"y":0.015},{"s":"D_DEBT_U","x":30,"y":0.01},{"s":"D_DEBT_U","x":33,"y":0.005},{"s":"D_DEBT_U","x":36,"y":0.003},{"s":"D_DEBT_U","x":40,"y":0.012},{"s":"D_DEBT_U","x":43,"y":0.008},{"s":"D_DEBT_U","x":46,"y":0.002},{"s":"D_DEBT_U","x":50,"y":0.006},{"s":"D_DEBT_U","x":54,"y":0.007},{"s":"D_DEBT_U","x":58,"y":0.002},{"s":"D_DEBT_U","x":62,"y":0.004},{"s":"D_DEBT_U","x":67,"y":0.004},{"s":"D_DEBT_U","x":75,"y":0.003},{"s":"D_DEBT_U","x":85,"y":0.002},{"s":"D_DEBT_U","x":96,"y":0.002},
{"s":"INS_U","x":1,"y":-0.002},{"s":"INS_U","x":2,"y":-0.01},{"s":"INS_U","x":3,"y":-0.006},{"s":"INS_U","x":4,"y":0.008},{"s":"INS_U","x":5,"y":0.012},{"s":"INS_U","x":6,"y":0.002},{"s":"INS_U","x":7,"y":-0.005},{"s":"INS_U","x":8,"y":0.006},{"s":"INS_U","x":9,"y":0.012},{"s":"INS_U","x":10,"y":0.006},{"s":"INS_U","x":11,"y":-0.004},{"s":"INS_U","x":12,"y":-0.002},{"s":"INS_U","x":13,"y":-0.01},{"s":"INS_U","x":14,"y":-0.004},{"s":"INS_U","x":16,"y":-0.006},{"s":"INS_U","x":18,"y":-0.012},{"s":"INS_U","x":19,"y":-0.016},{"s":"INS_U","x":20,"y":-0.01},{"s":"INS_U","x":22,"y":0},{"s":"INS_U","x":24,"y":0.003},{"s":"INS_U","x":26,"y":-0.002},{"s":"INS_U","x":29,"y":0.002},{"s":"INS_U","x":32,"y":-0.007},{"s":"INS_U","x":35,"y":-0.002},{"s":"INS_U","x":38,"y":0.008},{"s":"INS_U","x":40,"y":0.016},{"s":"INS_U","x":42,"y":0.012},{"s":"INS_U","x":45,"y":0.006},{"s":"INS_U","x":48,"y":0.004},{"s":"INS_U","x":52,"y":0.002},{"s":"INS_U","x":56,"y":-0.002},{"s":"INS_U","x":58,"y":-0.004},{"s":"INS_U","x":62,"y":0},{"s":"INS_U","x":67,"y":0.001},{"s":"INS_U","x":72,"y":-0.001},{"s":"INS_U","x":80,"y":0},{"s":"INS_U","x":88,"y":0},{"s":"INS_U","x":96,"y":0},
{"s":"INV_U","x":1,"y":0.046},{"s":"INV_U","x":2,"y":0.048},{"s":"INV_U","x":3,"y":0.04},{"s":"INV_U","x":4,"y":0.03},{"s":"INV_U","x":5,"y":0.02},{"s":"INV_U","x":6,"y":0.012},{"s":"INV_U","x":7,"y":0},{"s":"INV_U","x":8,"y":-0.008},{"s":"INV_U","x":9,"y":-0.012},{"s":"INV_U","x":10,"y":0.005},{"s":"INV_U","x":11,"y":0.02},{"s":"INV_U","x":12,"y":0.027},{"s":"INV_U","x":13,"y":0.025},{"s":"INV_U","x":14,"y":0.024},{"s":"INV_U","x":16,"y":0.028},{"s":"INV_U","x":17,"y":0.027},{"s":"INV_U","x":18,"y":0.02},{"s":"INV_U","x":20,"y":0.01},{"s":"INV_U","x":22,"y":0.004},{"s":"INV_U","x":24,"y":0.008},{"s":"INV_U","x":26,"y":0.021},{"s":"INV_U","x":28,"y":0.02},{"s":"INV_U","x":30,"y":0.015},{"s":"INV_U","x":32,"y":0.014},{"s":"INV_U","x":35,"y":0.006},{"s":"INV_U","x":37,"y":0.008},{"s":"INV_U","x":40,"y":0.015},{"s":"INV_U","x":42,"y":0.012},{"s":"INV_U","x":45,"y":0.005},{"s":"INV_U","x":48,"y":0.009},{"s":"INV_U","x":51,"y":0.008},{"s":"INV_U","x":55,"y":0.008},{"s":"INV_U","x":58,"y":0.004},{"s":"INV_U","x":62,"y":0.003},{"s":"INV_U","x":66,"y":0.006},{"s":"INV_U","x":70,"y":0.005},{"s":"INV_U","x":76,"y":0.004},{"s":"INV_U","x":82,"y":0.003},{"s":"INV_U","x":88,"y":0.003},{"s":"INV_U","x":96,"y":0.003},
{"s":"MON_U","x":1,"y":0.008},{"s":"MON_U","x":2,"y":0.006},{"s":"MON_U","x":3,"y":0.01},{"s":"MON_U","x":4,"y":0.004},{"s":"MON_U","x":5,"y":0.01},{"s":"MON_U","x":6,"y":0.006},{"s":"MON_U","x":7,"y":0.004},{"s":"MON_U","x":8,"y":0},{"s":"MON_U","x":9,"y":-0.004},{"s":"MON_U","x":10,"y":0.004},{"s":"MON_U","x":11,"y":0.01},{"s":"MON_U","x":12,"y":0.006},{"s":"MON_U","x":13,"y":0.004},{"s":"MON_U","x":14,"y":0.008},{"s":"MON_U","x":16,"y":0.004},{"s":"MON_U","x":18,"y":0.002},{"s":"MON_U","x":20,"y":0.006},{"s":"MON_U","x":22,"y":0.003},{"s":"MON_U","x":24,"y":0.005},{"s":"MON_U","x":27,"y":0.004},{"s":"MON_U","x":30,"y":0.006},{"s":"MON_U","x":33,"y":0.003},{"s":"MON_U","x":36,"y":0.005},{"s":"MON_U","x":40,"y":0.004},{"s":"MON_U","x":45,"y":0.005},{"s":"MON_U","x":50,"y":0.003},{"s":"MON_U","x":55,"y":0.004},{"s":"MON_U","x":60,"y":0.003},{"s":"MON_U","x":67,"y":0.002},{"s":"MON_U","x":75,"y":0.002},{"s":"MON_U","x":85,"y":0.002},{"s":"MON_U","x":96,"y":0.002},
{"s":"STOCK_U","x":1,"y":-0.01},{"s":"STOCK_U","x":2,"y":-0.008},{"s":"STOCK_U","x":3,"y":0.004},{"s":"STOCK_U","x":4,"y":0.012},{"s":"STOCK_U","x":5,"y":0.016},{"s":"STOCK_U","x":6,"y":0.01},{"s":"STOCK_U","x":7,"y":0.017},{"s":"STOCK_U","x":8,"y":0.012},{"s":"STOCK_U","x":9,"y":0.004},{"s":"STOCK_U","x":10,"y":-0.002},{"s":"STOCK_U","x":11,"y":0.008},{"s":"STOCK_U","x":12,"y":0.014},{"s":"STOCK_U","x":13,"y":0.012},{"s":"STOCK_U","x":14,"y":0.016},{"s":"STOCK_U","x":16,"y":0.02},{"s":"STOCK_U","x":18,"y":0.012},{"s":"STOCK_U","x":20,"y":0.008},{"s":"STOCK_U","x":22,"y":0.01},{"s":"STOCK_U","x":24,"y":0.012},{"s":"STOCK_U","x":26,"y":0.014},{"s":"STOCK_U","x":28,"y":0.008},{"s":"STOCK_U","x":30,"y":0.01},{"s":"STOCK_U","x":33,"y":0.006},{"s":"STOCK_U","x":36,"y":0.004},{"s":"STOCK_U","x":40,"y":0.013},{"s":"STOCK_U","x":42,"y":0.01},{"s":"STOCK_U","x":45,"y":0.006},{"s":"STOCK_U","x":48,"y":0.006},{"s":"STOCK_U","x":52,"y":0.006},{"s":"STOCK_U","x":55,"y":0.006},{"s":"STOCK_U","x":60,"y":0.003},{"s":"STOCK_U","x":67,"y":0.004},{"s":"STOCK_U","x":75,"y":0.003},{"s":"STOCK_U","x":85,"y":0.002},{"s":"STOCK_U","x":96,"y":0.002}
],
"p6":[
{"s":"BANK_U","x":1,"y":-0.03},{"s":"BANK_U","x":2,"y":0.02},{"s":"BANK_U","x":3,"y":0.025},{"s":"BANK_U","x":4,"y":0.033},{"s":"BANK_U","x":5,"y":0.028},{"s":"BANK_U","x":6,"y":0.02},{"s":"BANK_U","x":7,"y":0.016},{"s":"BANK_U","x":8,"y":0.01},{"s":"BANK_U","x":9,"y":0.004},{"s":"BANK_U","x":10,"y":0},{"s":"BANK_U","x":11,"y":0.01},{"s":"BANK_U","x":12,"y":0.004},{"s":"BANK_U","x":13,"y":-0.002},{"s":"BANK_U","x":14,"y":0.008},{"s":"BANK_U","x":15,"y":0.015},{"s":"BANK_U","x":17,"y":0.005},{"s":"BANK_U","x":19,"y":0.006},{"s":"BANK_U","x":21,"y":-0.003},{"s":"BANK_U","x":23,"y":0.002},{"s":"BANK_U","x":25,"y":0},{"s":"BANK_U","x":28,"y":0.004},{"s":"BANK_U","x":30,"y":0.007},{"s":"BANK_U","x":33,"y":-0.002},{"s":"BANK_U","x":36,"y":0.001},{"s":"BANK_U","x":40,"y":0.007},{"s":"BANK_U","x":43,"y":0.005},{"s":"BANK_U","x":48,"y":0},{"s":"BANK_U","x":53,"y":0.003},{"s":"BANK_U","x":57,"y":0},{"s":"BANK_U","x":63,"y":0.002},{"s":"BANK_U","x":70,"y":0.001},{"s":"BANK_U","x":80,"y":0},{"s":"BANK_U","x":96,"y":0.001},
{"s":"BUD_U","x":1,"y":0.01},{"s":"BUD_U","x":2,"y":0.004},{"s":"BUD_U","x":3,"y":-0.008},{"s":"BUD_U","x":4,"y":-0.012},{"s":"BUD_U","x":5,"y":-0.015},{"s":"BUD_U","x":6,"y":-0.01},{"s":"BUD_U","x":7,"y":-0.015},{"s":"BUD_U","x":8,"y":-0.02},{"s":"BUD_U","x":9,"y":-0.018},{"s":"BUD_U","x":10,"y":-0.012},{"s":"BUD_U","x":11,"y":-0.006},{"s":"BUD_U","x":12,"y":-0.01},{"s":"BUD_U","x":13,"y":-0.002},{"s":"BUD_U","x":14,"y":0.006},{"s":"BUD_U","x":16,"y":0.012},{"s":"BUD_U","x":18,"y":-0.002},{"s":"BUD_U","x":20,"y":-0.01},{"s":"BUD_U","x":22,"y":-0.004},{"s":"BUD_U","x":24,"y":0},{"s":"BUD_U","x":27,"y":0.008},{"s":"BUD_U","x":30,"y":-0.005},{"s":"BUD_U","x":32,"y":-0.018},{"s":"BUD_U","x":34,"y":-0.019},{"s":"BUD_U","x":37,"y":-0.02},{"s":"BUD_U","x":40,"y":-0.016},{"s":"BUD_U","x":42,"y":-0.015},{"s":"BUD_U","x":47,"y":-0.016},{"s":"BUD_U","x":50,"y":-0.008},{"s":"BUD_U","x":55,"y":-0.005},{"s":"BUD_U","x":62,"y":-0.006},{"s":"BUD_U","x":68,"y":-0.003},{"s":"BUD_U","x":75,"y":-0.005},{"s":"BUD_U","x":85,"y":-0.003},{"s":"BUD_U","x":96,"y":-0.002},
{"s":"D_DEBT_U","x":1,"y":-0.035},{"s":"D_DEBT_U","x":2,"y":-0.038},{"s":"D_DEBT_U","x":3,"y":-0.045},{"s":"D_DEBT_U","x":4,"y":-0.042},{"s":"D_DEBT_U","x":5,"y":-0.02},{"s":"D_DEBT_U","x":6,"y":-0.005},{"s":"D_DEBT_U","x":7,"y":0.01},{"s":"D_DEBT_U","x":8,"y":0.022},{"s":"D_DEBT_U","x":9,"y":0.005},{"s":"D_DEBT_U","x":10,"y":-0.02},{"s":"D_DEBT_U","x":11,"y":-0.008},{"s":"D_DEBT_U","x":12,"y":0.01},{"s":"D_DEBT_U","x":13,"y":-0.015},{"s":"D_DEBT_U","x":14,"y":-0.04},{"s":"D_DEBT_U","x":15,"y":-0.042},{"s":"D_DEBT_U","x":16,"y":-0.035},{"s":"D_DEBT_U","x":18,"y":-0.025},{"s":"D_DEBT_U","x":20,"y":-0.01},{"s":"D_DEBT_U","x":22,"y":-0.002},{"s":"D_DEBT_U","x":25,"y":0.005},{"s":"D_DEBT_U","x":28,"y":0.01},{"s":"D_DEBT_U","x":30,"y":0.005},{"s":"D_DEBT_U","x":34,"y":-0.005},{"s":"D_DEBT_U","x":38,"y":-0.01},{"s":"D_DEBT_U","x":42,"y":-0.015},{"s":"D_DEBT_U","x":48,"y":-0.01},{"s":"D_DEBT_U","x":52,"y":-0.003},{"s":"D_DEBT_U","x":58,"y":-0.006},{"s":"D_DEBT_U","x":63,"y":-0.004},{"s":"D_DEBT_U","x":68,"y":-0.002},{"s":"D_DEBT_U","x":72,"y":-0.005},{"s":"D_DEBT_U","x":77,"y":-0.008},{"s":"D_DEBT_U","x":85,"y":-0.004},{"s":"D_DEBT_U","x":90,"y":-0.005},{"s":"D_DEBT_U","x":96,"y":-0.002},
{"s":"INS_U","x":1,"y":0.005},{"s":"INS_U","x":2,"y":-0.01},{"s":"INS_U","x":3,"y":0.01},{"s":"INS_U","x":4,"y":0.002},{"s":"INS_U","x":5,"y":-0.006},{"s":"INS_U","x":6,"y":0.004},{"s":"INS_U","x":7,"y":-0.004},{"s":"INS_U","x":8,"y":0},{"s":"INS_U","x":9,"y":0.006},{"s":"INS_U","x":10,"y":-0.002},{"s":"INS_U","x":11,"y":0.004},{"s":"INS_U","x":12,"y":-0.004},{"s":"INS_U","x":13,"y":0.006},{"s":"INS_U","x":15,"y":0.012},{"s":"INS_U","x":17,"y":0.004},{"s":"INS_U","x":19,"y":0.01},{"s":"INS_U","x":21,"y":0.02},{"s":"INS_U","x":23,"y":0.022},{"s":"INS_U","x":25,"y":0.018},{"s":"INS_U","x":28,"y":0.01},{"s":"INS_U","x":30,"y":0.005},{"s":"INS_U","x":33,"y":0},{"s":"INS_U","x":36,"y":-0.005},{"s":"INS_U","x":40,"y":-0.008},{"s":"INS_U","x":45,"y":-0.005},{"s":"INS_U","x":50,"y":0},{"s":"INS_U","x":55,"y":-0.002},{"s":"INS_U","x":60,"y":0.002},{"s":"INS_U","x":65,"y":0.004},{"s":"INS_U","x":70,"y":0},{"s":"INS_U","x":80,"y":0.001},{"s":"INS_U","x":96,"y":0.001},
{"s":"INV_U","x":1,"y":0.005},{"s":"INV_U","x":2,"y":-0.005},{"s":"INV_U","x":3,"y":-0.01},{"s":"INV_U","x":4,"y":-0.004},{"s":"INV_U","x":5,"y":-0.02},{"s":"INV_U","x":6,"y":-0.012},{"s":"INV_U","x":7,"y":-0.006},{"s":"INV_U","x":8,"y":-0.016},{"s":"INV_U","x":9,"y":-0.02},{"s":"INV_U","x":10,"y":-0.014},{"s":"INV_U","x":11,"y":-0.02},{"s":"INV_U","x":12,"y":-0.026},{"s":"INV_U","x":13,"y":-0.028},{"s":"INV_U","x":14,"y":-0.024},{"s":"INV_U","x":16,"y":-0.018},{"s":"INV_U","x":18,"y":-0.024},{"s":"INV_U","x":19,"y":-0.025},{"s":"INV_U","x":21,"y":-0.018},{"s":"INV_U","x":23,"y":-0.01},{"s":"INV_U","x":25,"y":-0.004},{"s":"INV_U","x":28,"y":0.005},{"s":"INV_U","x":30,"y":0},{"s":"INV_U","x":32,"y":-0.008},{"s":"INV_U","x":36,"y":-0.018},{"s":"INV_U","x":40,"y":-0.01},{"s":"INV_U","x":45,"y":-0.015},{"s":"INV_U","x":48,"y":-0.018},{"s":"INV_U","x":52,"y":-0.01},{"s":"INV_U","x":55,"y":-0.003},{"s":"INV_U","x":58,"y":-0.005},{"s":"INV_U","x":62,"y":-0.012},{"s":"INV_U","x":67,"y":-0.003},{"s":"INV_U","x":72,"y":-0.005},{"s":"INV_U","x":77,"y":-0.008},{"s":"INV_U","x":85,"y":-0.005},{"s":"INV_U","x":96,"y":-0.003},
{"s":"MON_U","x":1,"y":0.044},{"s":"MON_U","x":2,"y":0.01},{"s":"MON_U","x":3,"y":-0.01},{"s":"MON_U","x":4,"y":-0.018},{"s":"MON_U","x":5,"y":-0.008},{"s":"MON_U","x":6,"y":0.008},{"s":"MON_U","x":7,"y":-0.005},{"s":"MON_U","x":8,"y":-0.012},{"s":"MON_U","x":9,"y":0},{"s":"MON_U","x":10,"y":-0.008},{"s":"MON_U","x":11,"y":-0.015},{"s":"MON_U","x":12,"y":-0.018},{"s":"MON_U","x":13,"y":-0.02},{"s":"MON_U","x":14,"y":-0.02},{"s":"MON_U","x":16,"y":-0.012},{"s":"MON_U","x":18,"y":-0.008},{"s":"MON_U","x":20,"y":-0.006},{"s":"MON_U","x":22,"y":-0.012},{"s":"MON_U","x":23,"y":-0.016},{"s":"MON_U","x":25,"y":-0.006},{"s":"MON_U","x":28,"y":0},{"s":"MON_U","x":31,"y":-0.006},{"s":"MON_U","x":34,"y":-0.012},{"s":"MON_U","x":37,"y":-0.015},{"s":"MON_U","x":40,"y":-0.01},{"s":"MON_U","x":44,"y":-0.014},{"s":"MON_U","x":48,"y":-0.01},{"s":"MON_U","x":52,"y":-0.005},{"s":"MON_U","x":56,"y":-0.006},{"s":"MON_U","x":62,"y":-0.004},{"s":"MON_U","x":68,"y":-0.003},{"s":"MON_U","x":75,"y":-0.004},{"s":"MON_U","x":85,"y":-0.003},{"s":"MON_U","x":96,"y":-0.002},
{"s":"STOCK_U","x":1,"y":0.025},{"s":"STOCK_U","x":2,"y":0.02},{"s":"STOCK_U","x":3,"y":0.004},{"s":"STOCK_U","x":4,"y":-0.01},{"s":"STOCK_U","x":5,"y":0.002},{"s":"STOCK_U","x":6,"y":-0.008},{"s":"STOCK_U","x":7,"y":-0.018},{"s":"STOCK_U","x":8,"y":-0.026},{"s":"STOCK_U","x":9,"y":-0.027},{"s":"STOCK_U","x":10,"y":-0.02},{"s":"STOCK_U","x":11,"y":-0.012},{"s":"STOCK_U","x":12,"y":-0.01},{"s":"STOCK_U","x":13,"y":-0.004},{"s":"STOCK_U","x":14,"y":0.002},{"s":"STOCK_U","x":16,"y":0.005},{"s":"STOCK_U","x":18,"y":0.01},{"s":"STOCK_U","x":19,"y":0.014},{"s":"STOCK_U","x":21,"y":0.012},{"s":"STOCK_U","x":24,"y":0.005},{"s":"STOCK_U","x":28,"y":0.008},{"s":"STOCK_U","x":32,"y":-0.008},{"s":"STOCK_U","x":35,"y":-0.02},{"s":"STOCK_U","x":37,"y":-0.019},{"s":"STOCK_U","x":40,"y":-0.015},{"s":"STOCK_U","x":44,"y":-0.017},{"s":"STOCK_U","x":48,"y":-0.01},{"s":"STOCK_U","x":53,"y":-0.005},{"s":"STOCK_U","x":60,"y":-0.003},{"s":"STOCK_U","x":68,"y":-0.004},{"s":"STOCK_U","x":75,"y":-0.005},{"s":"STOCK_U","x":85,"y":-0.003},{"s":"STOCK_U","x":96,"y":-0.002}
],
"p7":[
{"s":"BANK_U","x":1,"y":-0.0015},{"s":"BANK_U","x":2,"y":-0.0012},{"s":"BANK_U","x":3,"y":0.0003},{"s":"BANK_U","x":4,"y":0},{"s":"BANK_U","x":5,"y":-0.0006},{"s":"BANK_U","x":6,"y":-0.0008},{"s":"BANK_U","x":7,"y":0.0002},{"s":"BANK_U","x":8,"y":0.0004},{"s":"BANK_U","x":9,"y":0},{"s":"BANK_U","x":10,"y":-0.0005},{"s":"BANK_U","x":11,"y":0.0002},{"s":"BANK_U","x":12,"y":-0.0012},{"s":"BANK_U","x":13,"y":0.0003},{"s":"BANK_U","x":14,"y":0},{"s":"BANK_U","x":16,"y":-0.0008},{"s":"BANK_U","x":18,"y":0.0002},{"s":"BANK_U","x":20,"y":0.0008},{"s":"BANK_U","x":22,"y":-0.0005},{"s":"BANK_U","x":24,"y":0.0002},{"s":"BANK_U","x":26,"y":-0.0004},{"s":"BANK_U","x":28,"y":0.0001},{"s":"BANK_U","x":30,"y":0.0004},{"s":"BANK_U","x":33,"y":-0.0002},{"s":"BANK_U","x":36,"y":0.0003},{"s":"BANK_U","x":40,"y":0},{"s":"BANK_U","x":45,"y":-0.0001},{"s":"BANK_U","x":50,"y":0.0001},{"s":"BANK_U","x":55,"y":-0.0001},{"s":"BANK_U","x":60,"y":0},{"s":"BANK_U","x":67,"y":0},{"s":"BANK_U","x":75,"y":0},{"s":"BANK_U","x":85,"y":0},{"s":"BANK_U","x":96,"y":0},
{"s":"BUD_U","x":1,"y":0},{"s":"BUD_U","x":2,"y":0.0007},{"s":"BUD_U","x":3,"y":0.002},{"s":"BUD_U","x":4,"y":0.0005},{"s":"BUD_U","x":5,"y":0.0015},{"s":"BUD_U","x":6,"y":0.0034},{"s":"BUD_U","x":7,"y":0.0025},{"s":"BUD_U","x":8,"y":0.001},{"s":"BUD_U","x":9,"y":0.0002},{"s":"BUD_U","x":10,"y":0.0008},{"s":"BUD_U","x":11,"y":-0.0002},{"s":"BUD_U","x":12,"y":0.0006},{"s":"BUD_U","x":13,"y":0.0001},{"s":"BUD_U","x":14,"y":0.0004},{"s":"BUD_U","x":16,"y":-0.0003},{"s":"BUD_U","x":18,"y":-0.0006},{"s":"BUD_U","x":20,"y":0.0003},{"s":"BUD_U","x":22,"y":-0.0004},{"s":"BUD_U","x":24,"y":-0.0002},{"s":"BUD_U","x":26,"y":-0.0006},{"s":"BUD_U","x":28,"y":-0.0009},{"s":"BUD_U","x":30,"y":-0.0003},{"s":"BUD_U","x":33,"y":0},{"s":"BUD_U","x":36,"y":0.0002},{"s":"BUD_U","x":40,"y":0.0001},{"s":"BUD_U","x":45,"y":0.0002},{"s":"BUD_U","x":50,"y":0.0001},{"s":"BUD_U","x":55,"y":0.0002},{"s":"BUD_U","x":60,"y":0.0001},{"s":"BUD_U","x":67,"y":0.0001},{"s":"BUD_U","x":75,"y":0},{"s":"BUD_U","x":85,"y":0},{"s":"BUD_U","x":96,"y":0},
{"s":"D_DEBT_U","x":1,"y":0.001},{"s":"D_DEBT_U","x":2,"y":0.0004},{"s":"D_DEBT_U","x":3,"y":0},{"s":"D_DEBT_U","x":4,"y":0.0006},{"s":"D_DEBT_U","x":5,"y":0.0002},{"s":"D_DEBT_U","x":6,"y":0.0012},{"s":"D_DEBT_U","x":7,"y":0.0016},{"s":"D_DEBT_U","x":8,"y":0.0019},{"s":"D_DEBT_U","x":9,"y":0.0008},{"s":"D_DEBT_U","x":10,"y":0.0012},{"s":"D_DEBT_U","x":11,"y":0.0003},{"s":"D_DEBT_U","x":12,"y":0.0008},{"s":"D_DEBT_U","x":13,"y":0},{"s":"D_DEBT_U","x":14,"y":0.0006},{"s":"D_DEBT_U","x":16,"y":0.0002},{"s":"D_DEBT_U","x":17,"y":0.001},{"s":"D_DEBT_U","x":18,"y":0.0004},{"s":"D_DEBT_U","x":20,"y":0.0002},{"s":"D_DEBT_U","x":22,"y":0.0012},{"s":"D_DEBT_U","x":24,"y":0},{"s":"D_DEBT_U","x":26,"y":-0.0002},{"s":"D_DEBT_U","x":27,"y":-0.0005},{"s":"D_DEBT_U","x":30,"y":0},{"s":"D_DEBT_U","x":33,"y":0.0003},{"s":"D_DEBT_U","x":36,"y":0.0001},{"s":"D_DEBT_U","x":38,"y":-0.0004},{"s":"D_DEBT_U","x":41,"y":0.0002},{"s":"D_DEBT_U","x":45,"y":0.0004},{"s":"D_DEBT_U","x":48,"y":0},{"s":"D_DEBT_U","x":50,"y":0.0005},{"s":"D_DEBT_U","x":54,"y":0.0001},{"s":"D_DEBT_U","x":58,"y":0.0002},{"s":"D_DEBT_U","x":62,"y":0.0003},{"s":"D_DEBT_U","x":66,"y":0},{"s":"D_DEBT_U","x":70,"y":0.0001},{"s":"D_DEBT_U","x":75,"y":0.0002},{"s":"D_DEBT_U","x":80,"y":0},{"s":"D_DEBT_U","x":90,"y":0.0001},{"s":"D_DEBT_U","x":96,"y":0},
{"s":"INS_U","x":1,"y":0},{"s":"INS_U","x":2,"y":0.001},{"s":"INS_U","x":3,"y":-0.0003},{"s":"INS_U","x":4,"y":0.0004},{"s":"INS_U","x":5,"y":-0.0002},{"s":"INS_U","x":6,"y":0.0006},{"s":"INS_U","x":7,"y":-0.0003},{"s":"INS_U","x":8,"y":0.0007},{"s":"INS_U","x":9,"y":-0.0004},{"s":"INS_U","x":10,"y":0.0006},{"s":"INS_U","x":11,"y":-0.0006},{"s":"INS_U","x":12,"y":-0.0013},{"s":"INS_U","x":13,"y":0.0006},{"s":"INS_U","x":14,"y":0.0014},{"s":"INS_U","x":16,"y":0.0002},{"s":"INS_U","x":17,"y":-0.0006},{"s":"INS_U","x":18,"y":0.0004},{"s":"INS_U","x":20,"y":0.0008},{"s":"INS_U","x":21,"y":-0.0003},{"s":"INS_U","x":23,"y":-0.0013},{"s":"INS_U","x":25,"y":-0.0002},{"s":"INS_U","x":27,"y":-0.0005},{"s":"INS_U","x":30,"y":0.0004},{"s":"INS_U","x":33,"y":0},{"s":"INS_U","x":36,"y":0.0002},{"s":"INS_U","x":38,"y":-0.0005},{"s":"INS_U","x":41,"y":0.0001},{"s":"INS_U","x":45,"y":0.0002},{"s":"INS_U","x":50,"y":0},{"s":"INS_U","x":55,"y":0},{"s":"INS_U","x":60,"y":0},{"s":"INS_U","x":67,"y":0},{"s":"INS_U","x":75,"y":0},{"s":"INS_U","x":85,"y":0},{"s":"INS_U","x":96,"y":0},
{"s":"INV_U","x":1,"y":0},{"s":"INV_U","x":2,"y":-0.0012},{"s":"INV_U","x":3,"y":0.0002},{"s":"INV_U","x":4,"y":-0.0002},{"s":"INV_U","x":5,"y":0.0008},{"s":"INV_U","x":6,"y":0.0018},{"s":"INV_U","x":7,"y":0.0012},{"s":"INV_U","x":8,"y":0.0006},{"s":"INV_U","x":9,"y":0.0012},{"s":"INV_U","x":10,"y":0.0004},{"s":"INV_U","x":11,"y":0.002},{"s":"INV_U","x":12,"y":0.0012},{"s":"INV_U","x":13,"y":0.0004},{"s":"INV_U","x":14,"y":0.0008},{"s":"INV_U","x":16,"y":0},{"s":"INV_U","x":18,"y":0.0006},{"s":"INV_U","x":20,"y":0.0004},{"s":"INV_U","x":21,"y":0.0015},{"s":"INV_U","x":22,"y":0.0014},{"s":"INV_U","x":24,"y":0.0003},{"s":"INV_U","x":26,"y":-0.0004},{"s":"INV_U","x":28,"y":-0.0006},{"s":"INV_U","x":30,"y":0.0001},{"s":"INV_U","x":33,"y":0},{"s":"INV_U","x":36,"y":0.0007},{"s":"INV_U","x":38,"y":0.0003},{"s":"INV_U","x":41,"y":0},{"s":"INV_U","x":45,"y":0.0003},{"s":"INV_U","x":50,"y":0.0004},{"s":"INV_U","x":54,"y":0.0001},{"s":"INV_U","x":58,"y":0.0003},{"s":"INV_U","x":62,"y":0.0002},{"s":"INV_U","x":66,"y":0},{"s":"INV_U","x":70,"y":0.0001},{"s":"INV_U","x":76,"y":0.0002},{"s":"INV_U","x":82,"y":0},{"s":"INV_U","x":90,"y":0.0001},{"s":"INV_U","x":96,"y":0},
{"s":"MON_U","x":1,"y":0},{"s":"MON_U","x":2,"y":-0.0004},{"s":"MON_U","x":3,"y":-0.0002},{"s":"MON_U","x":4,"y":-0.0005},{"s":"MON_U","x":5,"y":-0.001},{"s":"MON_U","x":6,"y":-0.0002},{"s":"MON_U","x":7,"y":0},{"s":"MON_U","x":8,"y":0.0008},{"s":"MON_U","x":9,"y":0.0003},{"s":"MON_U","x":10,"y":-0.0002},{"s":"MON_U","x":11,"y":0.0004},{"s":"MON_U","x":12,"y":0},{"s":"MON_U","x":13,"y":0.0005},{"s":"MON_U","x":14,"y":-0.0003},{"s":"MON_U","x":16,"y":0.0003},{"s":"MON_U","x":18,"y":-0.0002},{"s":"MON_U","x":20,"y":0.0001},{"s":"MON_U","x":22,"y":-0.0004},{"s":"MON_U","x":24,"y":0},{"s":"MON_U","x":26,"y":-0.0002},{"s":"MON_U","x":28,"y":0},{"s":"MON_U","x":30,"y":-0.0002},{"s":"MON_U","x":33,"y":0.0001},{"s":"MON_U","x":36,"y":-0.0001},{"s":"MON_U","x":40,"y":0},{"s":"MON_U","x":45,"y":0},{"s":"MON_U","x":50,"y":-0.0001},{"s":"MON_U","x":55,"y":0},{"s":"MON_U","x":60,"y":0},{"s":"MON_U","x":67,"y":0},{"s":"MON_U","x":75,"y":0},{"s":"MON_U","x":85,"y":0},{"s":"MON_U","x":96,"y":0},
{"s":"STOCK_U","x":1,"y":0.0044},{"s":"STOCK_U","x":2,"y":0.001},{"s":"STOCK_U","x":3,"y":0.0026},{"s":"STOCK_U","x":4,"y":0.0008},{"s":"STOCK_U","x":5,"y":0.0012},{"s":"STOCK_U","x":6,"y":0.0016},{"s":"STOCK_U","x":7,"y":0.0013},{"s":"STOCK_U","x":8,"y":0.0015},{"s":"STOCK_U","x":9,"y":0.0006},{"s":"STOCK_U","x":10,"y":0.0012},{"s":"STOCK_U","x":11,"y":0.0008},{"s":"STOCK_U","x":12,"y":0.0004},{"s":"STOCK_U","x":13,"y":0.0012},{"s":"STOCK_U","x":14,"y":0.0006},{"s":"STOCK_U","x":15,"y":0.0012},{"s":"STOCK_U","x":16,"y":0.0016},{"s":"STOCK_U","x":18,"y":0.0008},{"s":"STOCK_U","x":20,"y":0.0004},{"s":"STOCK_U","x":22,"y":0.0008},{"s":"STOCK_U","x":24,"y":-0.0004},{"s":"STOCK_U","x":26,"y":0.0002},{"s":"STOCK_U","x":28,"y":-0.0008},{"s":"STOCK_U","x":30,"y":-0.0002},{"s":"STOCK_U","x":32,"y":0.0001},{"s":"STOCK_U","x":34,"y":-0.0006},{"s":"STOCK_U","x":36,"y":0.0003},{"s":"STOCK_U","x":38,"y":0},{"s":"STOCK_U","x":40,"y":0.0004},{"s":"STOCK_U","x":42,"y":0.0001},{"s":"STOCK_U","x":45,"y":0.0007},{"s":"STOCK_U","x":48,"y":0.0002},{"s":"STOCK_U","x":50,"y":0.0006},{"s":"STOCK_U","x":53,"y":0.0002},{"s":"STOCK_U","x":56,"y":0.0003},{"s":"STOCK_U","x":60,"y":0.0001},{"s":"STOCK_U","x":65,"y":0.0002},{"s":"STOCK_U","x":70,"y":0.0001},{"s":"STOCK_U","x":75,"y":0.0001},{"s":"STOCK_U","x":80,"y":0},{"s":"STOCK_U","x":88,"y":0.0001},{"s":"STOCK_U","x":96,"y":0}
]
},
"concat":[
{"data":{"name":"p1"},"width":239,"height":181,"title":{"text":["Response of BANK_U to Cholesky","One S.D. Innovations"]},
 "layer":[
 {"mark":{"type":"line","strokeWidth":1,"clip":true},"encoding":{
  "x":{"field":"x","type":"quantitative","scale":{"domain":[1,96],"nice":false,"zero":false},"axis":{"values":[10,20,30,40,50,60,70,80,90],"tickCount":20,"labelOverlap":false}},
  "y":{"field":"y","type":"quantitative","scale":{"domain":[-0.06,0.08],"nice":false,"zero":false},"axis":{"values":[-0.06,-0.04,-0.02,0,0.02,0.04,0.06,0.08],"tickCount":20,"labelOverlap":false,"labelExpr":"replace(format(datum.value,'.2f'),'0.','.')"}},
  "color":{"field":"s","type":"nominal","scale":{"domain":["BANK_U","BUD_U","D_DEBT_U","INS_U","INV_U","MON_U","STOCK_U"],"range":["#0000FF","#FF0000","#008000","#000000","#009999","#990099","#808000"]},
   "legend":{"title":null,"orient":"none","legendX":-12,"legendY":218,"direction":"horizontal","columns":3,"symbolType":"M-1,0H3","symbolSize":180,"symbolStrokeWidth":1.5,"labelFont":"Liberation Sans","labelFontSize":10,"labelColor":"black","strokeColor":"black","fillColor":"white","padding":3,"rowPadding":0,"columnPadding":6,"labelOffset":19,"gridAlign":"each"}}}},
 {"data":{"values":[{}]},"mark":{"type":"rule","color":"black","strokeWidth":1.2},"encoding":{"y":{"datum":0}}}
 ]},
{"data":{"name":"p2"},"width":239,"height":181,"title":{"text":["Response of BUD_U to Cholesky","One S.D. Innovations"]},
 "layer":[
 {"mark":{"type":"line","strokeWidth":1,"clip":true},"encoding":{
  "x":{"field":"x","type":"quantitative","scale":{"domain":[1,96],"nice":false,"zero":false},"axis":{"values":[10,20,30,40,50,60,70,80,90],"tickCount":20,"labelOverlap":false}},
  "y":{"field":"y","type":"quantitative","scale":{"domain":[-0.04,0.06],"nice":false,"zero":false},"axis":{"values":[-0.04,-0.02,0,0.02,0.04,0.06],"tickCount":20,"labelOverlap":false,"labelExpr":"replace(format(datum.value,'.2f'),'0.','.')"}},
  "color":{"field":"s","type":"nominal","scale":{"domain":["BANK_U","BUD_U","D_DEBT_U","INS_U","INV_U","MON_U","STOCK_U"],"range":["#0000FF","#FF0000","#008000","#000000","#009999","#990099","#808000"]},
   "legend":{"title":null,"orient":"none","legendX":-12,"legendY":218,"direction":"horizontal","columns":3,"symbolType":"M-1,0H3","symbolSize":180,"symbolStrokeWidth":1.5,"labelFont":"Liberation Sans","labelFontSize":10,"labelColor":"black","strokeColor":"black","fillColor":"white","padding":3,"rowPadding":0,"columnPadding":6,"labelOffset":19,"gridAlign":"each"}}}},
 {"data":{"values":[{}]},"mark":{"type":"rule","color":"black","strokeWidth":1.2},"encoding":{"y":{"datum":0}}}
 ]},
{"data":{"name":"p3"},"width":239,"height":181,"title":{"text":["Response of D_DEBT_U to Cholesky","One S.D. Innovations"]},
 "layer":[
 {"mark":{"type":"line","strokeWidth":1,"clip":true},"encoding":{
  "x":{"field":"x","type":"quantitative","scale":{"domain":[1,96],"nice":false,"zero":false},"axis":{"values":[10,20,30,40,50,60,70,80,90],"tickCount":20,"labelOverlap":false}},
  "y":{"field":"y","type":"quantitative","scale":{"domain":[-0.04,0.06],"nice":false,"zero":false},"axis":{"values":[-0.04,-0.02,0,0.02,0.04,0.06],"tickCount":20,"labelOverlap":false,"labelExpr":"replace(format(datum.value,'.2f'),'0.','.')"}},
  "color":{"field":"s","type":"nominal","scale":{"domain":["BANK_U","BUD_U","D_DEBT_U","INS_U","INV_U","MON_U","STOCK_U"],"range":["#0000FF","#FF0000","#008000","#000000","#009999","#990099","#808000"]},
   "legend":{"title":null,"orient":"none","legendX":-12,"legendY":218,"direction":"horizontal","columns":3,"symbolType":"M-1,0H3","symbolSize":180,"symbolStrokeWidth":1.5,"labelFont":"Liberation Sans","labelFontSize":10,"labelColor":"black","strokeColor":"black","fillColor":"white","padding":3,"rowPadding":0,"columnPadding":6,"labelOffset":19,"gridAlign":"each"}}}},
 {"data":{"values":[{}]},"mark":{"type":"rule","color":"black","strokeWidth":1.2},"encoding":{"y":{"datum":0}}}
 ]},
{"data":{"name":"p4"},"width":239,"height":181,"title":{"text":["Response of INS_U to Cholesky","One S.D. Innovations"]},
 "layer":[
 {"mark":{"type":"line","strokeWidth":1,"clip":true},"encoding":{
  "x":{"field":"x","type":"quantitative","scale":{"domain":[1,96],"nice":false,"zero":false},"axis":{"values":[10,20,30,40,50,60,70,80,90],"tickCount":20,"labelOverlap":false}},
  "y":{"field":"y","type":"quantitative","scale":{"domain":[-0.03,0.04],"nice":false,"zero":false},"axis":{"values":[-0.03,-0.02,-0.01,0,0.01,0.02,0.03,0.04],"tickCount":20,"labelOverlap":false,"labelExpr":"replace(format(datum.value,'.2f'),'0.','.')"}},
  "color":{"field":"s","type":"nominal","scale":{"domain":["BANK_U","BUD_U","D_DEBT_U","INS_U","INV_U","MON_U","STOCK_U"],"range":["#0000FF","#FF0000","#008000","#000000","#009999","#990099","#808000"]},
   "legend":{"title":null,"orient":"none","legendX":-12,"legendY":218,"direction":"horizontal","columns":3,"symbolType":"M-1,0H3","symbolSize":180,"symbolStrokeWidth":1.5,"labelFont":"Liberation Sans","labelFontSize":10,"labelColor":"black","strokeColor":"black","fillColor":"white","padding":3,"rowPadding":0,"columnPadding":6,"labelOffset":19,"gridAlign":"each"}}}},
 {"data":{"values":[{}]},"mark":{"type":"rule","color":"black","strokeWidth":1.2},"encoding":{"y":{"datum":0}}}
 ]},
{"data":{"name":"p5"},"width":239,"height":181,"title":{"text":["Response of INV_U to Cholesky","One S.D. Innovations"]},
 "layer":[
 {"mark":{"type":"line","strokeWidth":1,"clip":true},"encoding":{
  "x":{"field":"x","type":"quantitative","scale":{"domain":[1,96],"nice":false,"zero":false},"axis":{"values":[10,20,30,40,50,60,70,80,90],"tickCount":20,"labelOverlap":false}},
  "y":{"field":"y","type":"quantitative","scale":{"domain":[-0.04,0.06],"nice":false,"zero":false},"axis":{"values":[-0.04,-0.02,0,0.02,0.04,0.06],"tickCount":20,"labelOverlap":false,"labelExpr":"replace(format(datum.value,'.2f'),'0.','.')"}},
  "color":{"field":"s","type":"nominal","scale":{"domain":["BANK_U","BUD_U","D_DEBT_U","INS_U","INV_U","MON_U","STOCK_U"],"range":["#0000FF","#FF0000","#008000","#000000","#009999","#990099","#808000"]},
   "legend":{"title":null,"orient":"none","legendX":-12,"legendY":218,"direction":"horizontal","columns":3,"symbolType":"M-1,0H3","symbolSize":180,"symbolStrokeWidth":1.5,"labelFont":"Liberation Sans","labelFontSize":10,"labelColor":"black","strokeColor":"black","fillColor":"white","padding":3,"rowPadding":0,"columnPadding":6,"labelOffset":19,"gridAlign":"each"}}}},
 {"data":{"values":[{}]},"mark":{"type":"rule","color":"black","strokeWidth":1.2},"encoding":{"y":{"datum":0}}}
 ]},
{"data":{"name":"p6"},"width":239,"height":181,"title":{"text":["Response of MON_U to Cholesky","One S.D. Innovations"]},
 "layer":[
 {"mark":{"type":"line","strokeWidth":1,"clip":true},"encoding":{
  "x":{"field":"x","type":"quantitative","scale":{"domain":[1,96],"nice":false,"zero":false},"axis":{"values":[10,20,30,40,50,60,70,80,90],"tickCount":20,"labelOverlap":false}},
  "y":{"field":"y","type":"quantitative","scale":{"domain":[-0.06,0.06],"nice":false,"zero":false},"axis":{"values":[-0.06,-0.04,-0.02,0,0.02,0.04,0.06],"tickCount":20,"labelOverlap":false,"labelExpr":"replace(format(datum.value,'.2f'),'0.','.')"}},
  "color":{"field":"s","type":"nominal","scale":{"domain":["BANK_U","BUD_U","D_DEBT_U","INS_U","INV_U","MON_U","STOCK_U"],"range":["#0000FF","#FF0000","#008000","#000000","#009999","#990099","#808000"]},
   "legend":{"title":null,"orient":"none","legendX":-12,"legendY":218,"direction":"horizontal","columns":3,"symbolType":"M-1,0H3","symbolSize":180,"symbolStrokeWidth":1.5,"labelFont":"Liberation Sans","labelFontSize":10,"labelColor":"black","strokeColor":"black","fillColor":"white","padding":3,"rowPadding":0,"columnPadding":6,"labelOffset":19,"gridAlign":"each"}}}},
 {"data":{"values":[{}]},"mark":{"type":"rule","color":"black","strokeWidth":1.2},"encoding":{"y":{"datum":0}}}
 ]},
{"data":{"name":"p7"},"width":239,"height":181,"title":{"text":["Response of STOCK_U to Cholesky","One S.D. Innovations"]},
 "layer":[
 {"mark":{"type":"line","strokeWidth":1,"clip":true},"encoding":{
  "x":{"field":"x","type":"quantitative","scale":{"domain":[1,96],"nice":false,"zero":false},"axis":{"values":[10,20,30,40,50,60,70,80,90],"tickCount":20,"labelOverlap":false}},
  "y":{"field":"y","type":"quantitative","scale":{"domain":[-0.002,0.006],"nice":false,"zero":false},"axis":{"values":[-0.002,0,0.002,0.004,0.006],"tickCount":20,"labelOverlap":false,"labelExpr":"replace(format(datum.value,'.3f'),'0.','.')"}},
  "color":{"field":"s","type":"nominal","scale":{"domain":["BANK_U","BUD_U","D_DEBT_U","INS_U","INV_U","MON_U","STOCK_U"],"range":["#0000FF","#FF0000","#008000","#000000","#009999","#990099","#808000"]},
   "legend":{"title":null,"orient":"none","legendX":-12,"legendY":218,"direction":"horizontal","columns":3,"symbolType":"M-1,0H3","symbolSize":180,"symbolStrokeWidth":1.5,"labelFont":"Liberation Sans","labelFontSize":10,"labelColor":"black","strokeColor":"black","fillColor":"white","padding":3,"rowPadding":0,"columnPadding":6,"labelOffset":19,"gridAlign":"each"}}}},
 {"data":{"values":[{}]},"mark":{"type":"rule","color":"black","strokeWidth":1.2},"encoding":{"y":{"datum":0}}}
 ]}
]
}
